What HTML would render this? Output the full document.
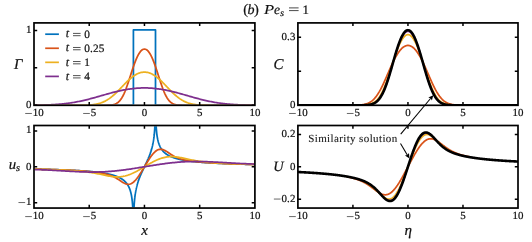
<!DOCTYPE html>
<html><head><meta charset="utf-8"><title>fig</title>
<style>html,body{margin:0;padding:0;background:#fff}svg{display:block;will-change:transform}text{font-family:"Liberation Serif",serif;fill:#111;stroke:#111;stroke-width:0.22px;text-rendering:geometricPrecision}</style>
</head><body>
<svg width="532" height="242" viewBox="0 0 532 242">
<rect width="532" height="242" fill="#fff"/>
<defs><clipPath id="cTL"><rect x="34.85" y="23.75" width="219.20" height="80.70"/></clipPath><clipPath id="cTR"><rect x="298.75" y="23.75" width="218.40" height="80.70"/></clipPath><clipPath id="cBL"><rect x="34.85" y="126.35" width="219.20" height="80.85"/></clipPath><clipPath id="cBR"><rect x="298.75" y="126.35" width="218.40" height="80.85"/></clipPath><clipPath id="kTL"><rect x="34.00" y="22.90" width="220.90" height="82.40"/></clipPath><clipPath id="kTR"><rect x="297.90" y="22.90" width="220.10" height="82.40"/></clipPath><clipPath id="kBL"><rect x="34.00" y="125.50" width="220.90" height="82.55"/></clipPath><clipPath id="kBR"><rect x="297.90" y="125.50" width="220.10" height="82.55"/></clipPath></defs>
<polyline clip-path="url(#cTL)" points="34.00,105.30 133.41,105.30 133.41,29.90 155.50,29.90 155.50,105.30 254.90,105.30" fill="none" stroke="#0072bd" stroke-width="1.75" stroke-linejoin="round"/>
<polyline clip-path="url(#cTL)" points="32.27,105.30 33.35,105.30 34.43,105.30 35.51,105.30 36.59,105.30 37.67,105.30 38.75,105.30 39.82,105.30 40.90,105.30 41.98,105.30 43.06,105.30 44.14,105.30 45.22,105.30 46.30,105.30 47.37,105.30 48.45,105.30 49.53,105.30 50.61,105.30 51.69,105.30 52.77,105.30 53.85,105.30 54.93,105.30 56.00,105.30 57.08,105.30 58.16,105.30 59.24,105.30 60.32,105.30 61.40,105.30 62.48,105.30 63.55,105.30 64.63,105.30 65.71,105.30 66.79,105.30 67.87,105.30 68.95,105.30 70.03,105.30 71.10,105.30 72.18,105.30 73.26,105.30 74.34,105.30 75.42,105.30 76.50,105.30 77.58,105.30 78.65,105.30 79.73,105.30 80.81,105.30 81.89,105.30 82.97,105.30 84.05,105.30 85.13,105.30 86.20,105.30 87.28,105.30 88.36,105.30 89.44,105.30 90.52,105.30 91.60,105.30 92.68,105.30 93.76,105.30 94.83,105.30 95.91,105.30 96.99,105.30 98.07,105.30 99.15,105.30 100.23,105.30 101.31,105.30 102.38,105.30 103.46,105.29 104.54,105.28 105.62,105.27 106.70,105.26 107.78,105.23 108.86,105.19 109.93,105.13 111.01,105.03 112.09,104.90 113.17,104.70 114.25,104.42 115.33,104.04 116.41,103.53 117.48,102.86 118.56,101.99 119.64,100.90 120.72,99.55 121.80,97.92 122.88,96.00 123.96,93.79 125.03,91.29 126.11,88.52 127.19,85.53 128.27,82.36 129.35,79.07 130.43,75.71 131.51,72.36 132.59,69.07 133.66,65.91 134.74,62.92 135.82,60.15 136.90,57.64 137.98,55.42 139.06,53.51 140.14,51.92 141.21,50.68 142.29,49.79 143.37,49.25 144.45,49.07 145.53,49.25 146.61,49.79 147.69,50.68 148.76,51.92 149.84,53.51 150.92,55.42 152.00,57.64 153.08,60.15 154.16,62.92 155.24,65.91 156.31,69.07 157.39,72.36 158.47,75.71 159.55,79.07 160.63,82.36 161.71,85.53 162.79,88.52 163.87,91.29 164.94,93.79 166.02,96.00 167.10,97.92 168.18,99.55 169.26,100.90 170.34,101.99 171.42,102.86 172.49,103.53 173.57,104.04 174.65,104.42 175.73,104.70 176.81,104.90 177.89,105.03 178.97,105.13 180.04,105.19 181.12,105.23 182.20,105.26 183.28,105.27 184.36,105.28 185.44,105.29 186.52,105.30 187.59,105.30 188.67,105.30 189.75,105.30 190.83,105.30 191.91,105.30 192.99,105.30 194.07,105.30 195.14,105.30 196.22,105.30 197.30,105.30 198.38,105.30 199.46,105.30 200.54,105.30 201.62,105.30 202.70,105.30 203.77,105.30 204.85,105.30 205.93,105.30 207.01,105.30 208.09,105.30 209.17,105.30 210.25,105.30 211.32,105.30 212.40,105.30 213.48,105.30 214.56,105.30 215.64,105.30 216.72,105.30 217.80,105.30 218.87,105.30 219.95,105.30 221.03,105.30 222.11,105.30 223.19,105.30 224.27,105.30 225.35,105.30 226.42,105.30 227.50,105.30 228.58,105.30 229.66,105.30 230.74,105.30 231.82,105.30 232.90,105.30 233.97,105.30 235.05,105.30 236.13,105.30 237.21,105.30 238.29,105.30 239.37,105.30 240.45,105.30 241.53,105.30 242.60,105.30 243.68,105.30 244.76,105.30 245.84,105.30 246.92,105.30 248.00,105.30 249.08,105.30 250.15,105.30 251.23,105.30 252.31,105.30 253.39,105.30 254.47,105.30 255.55,105.30 256.63,105.30" fill="none" stroke="#d95319" stroke-width="1.75" stroke-linejoin="round"/>
<polyline clip-path="url(#cTL)" points="32.27,105.30 33.35,105.30 34.43,105.30 35.51,105.30 36.59,105.30 37.67,105.30 38.75,105.30 39.82,105.30 40.90,105.30 41.98,105.30 43.06,105.30 44.14,105.30 45.22,105.30 46.30,105.30 47.37,105.30 48.45,105.30 49.53,105.30 50.61,105.30 51.69,105.30 52.77,105.30 53.85,105.30 54.93,105.30 56.00,105.30 57.08,105.30 58.16,105.30 59.24,105.30 60.32,105.30 61.40,105.30 62.48,105.30 63.55,105.30 64.63,105.30 65.71,105.30 66.79,105.30 67.87,105.30 68.95,105.30 70.03,105.30 71.10,105.29 72.18,105.29 73.26,105.29 74.34,105.29 75.42,105.28 76.50,105.28 77.58,105.27 78.65,105.26 79.73,105.25 80.81,105.24 81.89,105.22 82.97,105.20 84.05,105.18 85.13,105.15 86.20,105.11 87.28,105.06 88.36,105.00 89.44,104.94 90.52,104.86 91.60,104.76 92.68,104.65 93.76,104.51 94.83,104.35 95.91,104.17 96.99,103.96 98.07,103.71 99.15,103.43 100.23,103.12 101.31,102.76 102.38,102.35 103.46,101.91 104.54,101.41 105.62,100.86 106.70,100.25 107.78,99.60 108.86,98.89 109.93,98.12 111.01,97.31 112.09,96.44 113.17,95.52 114.25,94.56 115.33,93.56 116.41,92.53 117.48,91.46 118.56,90.37 119.64,89.26 120.72,88.13 121.80,87.00 122.88,85.87 123.96,84.75 125.03,83.64 126.11,82.55 127.19,81.49 128.27,80.46 129.35,79.47 130.43,78.53 131.51,77.63 132.59,76.79 133.66,76.01 134.74,75.29 135.82,74.64 136.90,74.06 137.98,73.55 139.06,73.11 140.14,72.75 141.21,72.47 142.29,72.27 143.37,72.15 144.45,72.11 145.53,72.15 146.61,72.27 147.69,72.47 148.76,72.75 149.84,73.11 150.92,73.55 152.00,74.06 153.08,74.64 154.16,75.29 155.24,76.01 156.31,76.79 157.39,77.63 158.47,78.53 159.55,79.47 160.63,80.46 161.71,81.49 162.79,82.55 163.87,83.64 164.94,84.75 166.02,85.87 167.10,87.00 168.18,88.13 169.26,89.26 170.34,90.37 171.42,91.46 172.49,92.53 173.57,93.56 174.65,94.56 175.73,95.52 176.81,96.44 177.89,97.31 178.97,98.12 180.04,98.89 181.12,99.60 182.20,100.25 183.28,100.86 184.36,101.41 185.44,101.91 186.52,102.35 187.59,102.76 188.67,103.12 189.75,103.43 190.83,103.71 191.91,103.96 192.99,104.17 194.07,104.35 195.14,104.51 196.22,104.65 197.30,104.76 198.38,104.86 199.46,104.94 200.54,105.00 201.62,105.06 202.70,105.11 203.77,105.15 204.85,105.18 205.93,105.20 207.01,105.22 208.09,105.24 209.17,105.25 210.25,105.26 211.32,105.27 212.40,105.28 213.48,105.28 214.56,105.29 215.64,105.29 216.72,105.29 217.80,105.29 218.87,105.30 219.95,105.30 221.03,105.30 222.11,105.30 223.19,105.30 224.27,105.30 225.35,105.30 226.42,105.30 227.50,105.30 228.58,105.30 229.66,105.30 230.74,105.30 231.82,105.30 232.90,105.30 233.97,105.30 235.05,105.30 236.13,105.30 237.21,105.30 238.29,105.30 239.37,105.30 240.45,105.30 241.53,105.30 242.60,105.30 243.68,105.30 244.76,105.30 245.84,105.30 246.92,105.30 248.00,105.30 249.08,105.30 250.15,105.30 251.23,105.30 252.31,105.30 253.39,105.30 254.47,105.30 255.55,105.30 256.63,105.30" fill="none" stroke="#edb120" stroke-width="1.75" stroke-linejoin="round"/>
<polyline clip-path="url(#cTL)" points="32.27,105.20 33.35,105.19 34.43,105.18 35.51,105.17 36.59,105.15 37.67,105.13 38.75,105.11 39.82,105.09 40.90,105.07 41.98,105.05 43.06,105.02 44.14,104.99 45.22,104.96 46.30,104.92 47.37,104.88 48.45,104.84 49.53,104.80 50.61,104.75 51.69,104.70 52.77,104.64 53.85,104.58 54.93,104.51 56.00,104.44 57.08,104.37 58.16,104.29 59.24,104.20 60.32,104.11 61.40,104.01 62.48,103.91 63.55,103.80 64.63,103.68 65.71,103.56 66.79,103.43 67.87,103.29 68.95,103.15 70.03,103.00 71.10,102.84 72.18,102.67 73.26,102.50 74.34,102.31 75.42,102.12 76.50,101.93 77.58,101.72 78.65,101.51 79.73,101.29 80.81,101.06 81.89,100.83 82.97,100.58 84.05,100.34 85.13,100.08 86.20,99.82 87.28,99.55 88.36,99.28 89.44,99.00 90.52,98.72 91.60,98.43 92.68,98.14 93.76,97.84 94.83,97.54 95.91,97.24 96.99,96.93 98.07,96.63 99.15,96.32 100.23,96.01 101.31,95.70 102.38,95.39 103.46,95.08 104.54,94.77 105.62,94.47 106.70,94.16 107.78,93.86 108.86,93.56 109.93,93.27 111.01,92.98 112.09,92.69 113.17,92.41 114.25,92.13 115.33,91.86 116.41,91.60 117.48,91.34 118.56,91.09 119.64,90.85 120.72,90.61 121.80,90.39 122.88,90.17 123.96,89.96 125.03,89.76 126.11,89.57 127.19,89.38 128.27,89.21 129.35,89.05 130.43,88.90 131.51,88.76 132.59,88.63 133.66,88.51 134.74,88.40 135.82,88.30 136.90,88.21 137.98,88.14 139.06,88.07 140.14,88.02 141.21,87.98 142.29,87.95 143.37,87.93 144.45,87.93 145.53,87.93 146.61,87.95 147.69,87.98 148.76,88.02 149.84,88.07 150.92,88.14 152.00,88.21 153.08,88.30 154.16,88.40 155.24,88.51 156.31,88.63 157.39,88.76 158.47,88.90 159.55,89.05 160.63,89.21 161.71,89.38 162.79,89.57 163.87,89.76 164.94,89.96 166.02,90.17 167.10,90.39 168.18,90.61 169.26,90.85 170.34,91.09 171.42,91.34 172.49,91.60 173.57,91.86 174.65,92.13 175.73,92.41 176.81,92.69 177.89,92.98 178.97,93.27 180.04,93.56 181.12,93.86 182.20,94.16 183.28,94.47 184.36,94.77 185.44,95.08 186.52,95.39 187.59,95.70 188.67,96.01 189.75,96.32 190.83,96.63 191.91,96.93 192.99,97.24 194.07,97.54 195.14,97.84 196.22,98.14 197.30,98.43 198.38,98.72 199.46,99.00 200.54,99.28 201.62,99.55 202.70,99.82 203.77,100.08 204.85,100.34 205.93,100.58 207.01,100.83 208.09,101.06 209.17,101.29 210.25,101.51 211.32,101.72 212.40,101.93 213.48,102.12 214.56,102.31 215.64,102.50 216.72,102.67 217.80,102.84 218.87,103.00 219.95,103.15 221.03,103.29 222.11,103.43 223.19,103.56 224.27,103.68 225.35,103.80 226.42,103.91 227.50,104.01 228.58,104.11 229.66,104.20 230.74,104.29 231.82,104.37 232.90,104.44 233.97,104.51 235.05,104.58 236.13,104.64 237.21,104.70 238.29,104.75 239.37,104.80 240.45,104.84 241.53,104.88 242.60,104.92 243.68,104.96 244.76,104.99 245.84,105.02 246.92,105.05 248.00,105.07 249.08,105.09 250.15,105.11 251.23,105.13 252.31,105.15 253.39,105.17 254.47,105.18 255.55,105.19 256.63,105.20" fill="none" stroke="#7e2f8e" stroke-width="1.75" stroke-linejoin="round"/>
<polyline clip-path="url(#cBL)" points="34.00,169.07 34.17,169.07 34.33,169.07 34.50,169.08 34.66,169.08 34.83,169.09 35.00,169.09 35.16,169.09 35.33,169.10 35.49,169.10 35.66,169.10 35.83,169.11 35.99,169.11 36.16,169.11 36.32,169.12 36.49,169.12 36.66,169.12 36.82,169.13 36.99,169.13 37.15,169.14 37.32,169.14 37.48,169.14 37.65,169.15 37.82,169.15 37.98,169.15 38.15,169.16 38.31,169.16 38.48,169.17 38.65,169.17 38.81,169.17 38.98,169.18 39.14,169.18 39.31,169.18 39.48,169.19 39.64,169.19 39.81,169.20 39.97,169.20 40.14,169.20 40.31,169.21 40.47,169.21 40.64,169.22 40.80,169.22 40.97,169.22 41.14,169.23 41.30,169.23 41.47,169.24 41.63,169.24 41.80,169.24 41.97,169.25 42.13,169.25 42.30,169.26 42.46,169.26 42.63,169.26 42.79,169.27 42.96,169.27 43.13,169.28 43.29,169.28 43.46,169.28 43.62,169.29 43.79,169.29 43.96,169.30 44.12,169.30 44.29,169.30 44.45,169.31 44.62,169.31 44.79,169.32 44.95,169.32 45.12,169.33 45.28,169.33 45.45,169.33 45.62,169.34 45.78,169.34 45.95,169.35 46.11,169.35 46.28,169.36 46.45,169.36 46.61,169.37 46.78,169.37 46.94,169.37 47.11,169.38 47.28,169.38 47.44,169.39 47.61,169.39 47.77,169.40 47.94,169.40 48.11,169.41 48.27,169.41 48.44,169.42 48.60,169.42 48.77,169.42 48.93,169.43 49.10,169.43 49.27,169.44 49.43,169.44 49.60,169.45 49.76,169.45 49.93,169.46 50.10,169.46 50.26,169.47 50.43,169.47 50.59,169.48 50.76,169.48 50.93,169.49 51.09,169.49 51.26,169.50 51.42,169.50 51.59,169.51 51.76,169.51 51.92,169.52 52.09,169.52 52.25,169.53 52.42,169.53 52.59,169.54 52.75,169.54 52.92,169.55 53.08,169.55 53.25,169.56 53.42,169.56 53.58,169.57 53.75,169.57 53.91,169.58 54.08,169.58 54.24,169.59 54.41,169.59 54.58,169.60 54.74,169.60 54.91,169.61 55.07,169.61 55.24,169.62 55.41,169.62 55.57,169.63 55.74,169.63 55.90,169.64 56.07,169.65 56.24,169.65 56.40,169.66 56.57,169.66 56.73,169.67 56.90,169.67 57.07,169.68 57.23,169.68 57.40,169.69 57.56,169.70 57.73,169.70 57.90,169.71 58.06,169.71 58.23,169.72 58.39,169.72 58.56,169.73 58.73,169.74 58.89,169.74 59.06,169.75 59.22,169.75 59.39,169.76 59.56,169.76 59.72,169.77 59.89,169.78 60.05,169.78 60.22,169.79 60.38,169.79 60.55,169.80 60.72,169.81 60.88,169.81 61.05,169.82 61.21,169.82 61.38,169.83 61.55,169.84 61.71,169.84 61.88,169.85 62.04,169.86 62.21,169.86 62.38,169.87 62.54,169.88 62.71,169.88 62.87,169.89 63.04,169.89 63.21,169.90 63.37,169.91 63.54,169.91 63.70,169.92 63.87,169.93 64.04,169.93 64.20,169.94 64.37,169.95 64.53,169.95 64.70,169.96 64.87,169.97 65.03,169.97 65.20,169.98 65.36,169.99 65.53,169.99 65.69,170.00 65.86,170.01 66.03,170.01 66.19,170.02 66.36,170.03 66.52,170.04 66.69,170.04 66.86,170.05 67.02,170.06 67.19,170.06 67.35,170.07 67.52,170.08 67.69,170.09 67.85,170.09 68.02,170.10 68.18,170.11 68.35,170.11 68.52,170.12 68.68,170.13 68.85,170.14 69.01,170.14 69.18,170.15 69.35,170.16 69.51,170.17 69.68,170.18 69.84,170.18 70.01,170.19 70.18,170.20 70.34,170.21 70.51,170.21 70.67,170.22 70.84,170.23 71.01,170.24 71.17,170.25 71.34,170.25 71.50,170.26 71.67,170.27 71.83,170.28 72.00,170.29 72.17,170.29 72.33,170.30 72.50,170.31 72.66,170.32 72.83,170.33 73.00,170.34 73.16,170.34 73.33,170.35 73.49,170.36 73.66,170.37 73.83,170.38 73.99,170.39 74.16,170.40 74.32,170.40 74.49,170.41 74.66,170.42 74.82,170.43 74.99,170.44 75.15,170.45 75.32,170.46 75.49,170.47 75.65,170.48 75.82,170.48 75.98,170.49 76.15,170.50 76.32,170.51 76.48,170.52 76.65,170.53 76.81,170.54 76.98,170.55 77.15,170.56 77.31,170.57 77.48,170.58 77.64,170.59 77.81,170.60 77.97,170.61 78.14,170.62 78.31,170.63 78.47,170.64 78.64,170.65 78.80,170.66 78.97,170.67 79.14,170.68 79.30,170.69 79.47,170.70 79.63,170.71 79.80,170.72 79.97,170.73 80.13,170.74 80.30,170.75 80.46,170.76 80.63,170.77 80.80,170.78 80.96,170.79 81.13,170.80 81.29,170.81 81.46,170.82 81.63,170.83 81.79,170.85 81.96,170.86 82.12,170.87 82.29,170.88 82.46,170.89 82.62,170.90 82.79,170.91 82.95,170.92 83.12,170.94 83.28,170.95 83.45,170.96 83.62,170.97 83.78,170.98 83.95,170.99 84.11,171.01 84.28,171.02 84.45,171.03 84.61,171.04 84.78,171.05 84.94,171.07 85.11,171.08 85.28,171.09 85.44,171.10 85.61,171.12 85.77,171.13 85.94,171.14 86.11,171.15 86.27,171.17 86.44,171.18 86.60,171.19 86.77,171.20 86.94,171.22 87.10,171.23 87.27,171.24 87.43,171.26 87.60,171.27 87.77,171.28 87.93,171.30 88.10,171.31 88.26,171.33 88.43,171.34 88.60,171.35 88.76,171.37 88.93,171.38 89.09,171.40 89.26,171.41 89.42,171.42 89.59,171.44 89.76,171.45 89.92,171.47 90.09,171.48 90.25,171.50 90.42,171.51 90.59,171.53 90.75,171.54 90.92,171.56 91.08,171.57 91.25,171.59 91.42,171.60 91.58,171.62 91.75,171.64 91.91,171.65 92.08,171.67 92.25,171.68 92.41,171.70 92.58,171.72 92.74,171.73 92.91,171.75 93.08,171.77 93.24,171.78 93.41,171.80 93.57,171.82 93.74,171.83 93.91,171.85 94.07,171.87 94.24,171.88 94.40,171.90 94.57,171.92 94.73,171.94 94.90,171.96 95.07,171.97 95.23,171.99 95.40,172.01 95.56,172.03 95.73,172.05 95.90,172.07 96.06,172.08 96.23,172.10 96.39,172.12 96.56,172.14 96.73,172.16 96.89,172.18 97.06,172.20 97.22,172.22 97.39,172.24 97.56,172.26 97.72,172.28 97.89,172.30 98.05,172.32 98.22,172.34 98.39,172.36 98.55,172.38 98.72,172.40 98.88,172.43 99.05,172.45 99.22,172.47 99.38,172.49 99.55,172.51 99.71,172.54 99.88,172.56 100.05,172.58 100.21,172.60 100.38,172.63 100.54,172.65 100.71,172.67 100.87,172.70 101.04,172.72 101.21,172.74 101.37,172.77 101.54,172.79 101.70,172.82 101.87,172.84 102.04,172.87 102.20,172.89 102.37,172.92 102.53,172.94 102.70,172.97 102.87,172.99 103.03,173.02 103.20,173.05 103.36,173.07 103.53,173.10 103.70,173.13 103.86,173.15 104.03,173.18 104.19,173.21 104.36,173.24 104.53,173.27 104.69,173.29 104.86,173.32 105.02,173.35 105.19,173.38 105.36,173.41 105.52,173.44 105.69,173.47 105.85,173.50 106.02,173.53 106.18,173.56 106.35,173.59 106.52,173.63 106.68,173.66 106.85,173.69 107.01,173.72 107.18,173.76 107.35,173.79 107.51,173.82 107.68,173.86 107.84,173.89 108.01,173.93 108.18,173.96 108.34,174.00 108.51,174.03 108.67,174.07 108.84,174.10 109.01,174.14 109.17,174.18 109.34,174.21 109.50,174.25 109.67,174.29 109.84,174.33 110.00,174.37 110.17,174.41 110.33,174.45 110.50,174.49 110.67,174.53 110.83,174.57 111.00,174.61 111.16,174.65 111.33,174.70 111.50,174.74 111.66,174.78 111.83,174.83 111.99,174.87 112.16,174.92 112.32,174.96 112.49,175.01 112.66,175.06 112.82,175.10 112.99,175.15 113.15,175.20 113.32,175.25 113.49,175.30 113.65,175.35 113.82,175.40 113.98,175.45 114.15,175.51 114.32,175.56 114.48,175.61 114.65,175.67 114.81,175.72 114.98,175.78 115.15,175.83 115.31,175.89 115.48,175.95 115.64,176.01 115.81,176.07 115.98,176.13 116.14,176.19 116.31,176.25 116.47,176.31 116.64,176.38 116.81,176.44 116.97,176.51 117.14,176.57 117.30,176.64 117.47,176.71 117.63,176.78 117.80,176.85 117.97,176.92 118.13,177.00 118.30,177.07 118.46,177.14 118.63,177.22 118.80,177.30 118.96,177.38 119.13,177.46 119.29,177.54 119.46,177.62 119.63,177.71 119.79,177.79 119.96,177.88 120.12,177.97 120.29,178.06 120.46,178.15 120.62,178.24 120.79,178.34 120.95,178.43 121.12,178.53 121.29,178.63 121.45,178.73 121.62,178.84 121.78,178.94 121.95,179.05 122.12,179.16 122.28,179.27 122.45,179.39 122.61,179.50 122.78,179.62 122.95,179.74 123.11,179.87 123.28,180.00 123.44,180.13 123.61,180.26 123.77,180.39 123.94,180.53 124.11,180.67 124.27,180.82 124.44,180.97 124.60,181.12 124.77,181.28 124.94,181.44 125.10,181.60 125.27,181.77 125.43,181.94 125.60,182.12 125.77,182.30 125.93,182.49 126.10,182.68 126.26,182.88 126.43,183.08 126.60,183.29 126.76,183.51 126.93,183.73 127.09,183.96 127.26,184.20 127.43,184.44 127.59,184.70 127.76,184.96 127.92,185.23 128.09,185.51 128.26,185.81 128.42,186.11 128.59,186.43 128.75,186.76 128.92,187.10 129.08,187.46 129.25,187.83 129.42,188.23 129.58,188.64 129.75,189.07 129.91,189.53 130.08,190.01 130.25,190.52 130.41,191.06 130.58,191.64 130.74,192.26 130.91,192.91 131.08,193.62 131.24,194.39 131.41,195.22 131.57,196.14 131.74,197.14 131.91,198.26 132.07,199.52 132.24,200.96 132.40,202.63 132.57,204.62 132.74,207.06 132.90,210.24 133.07,214.72 133.23,222.37 133.40,261.53 133.41,261.53 133.45,238.23 133.48,231.06 133.52,226.68 133.56,223.51 133.59,221.02 133.63,218.97 133.67,217.23 133.71,215.72 133.74,214.38 133.78,213.17 133.82,212.08 133.85,211.08 133.89,210.16 133.93,209.30 133.96,208.50 134.00,207.75 134.04,207.04 134.07,206.38 134.11,205.74 134.15,205.14 134.18,204.57 134.22,204.02 134.26,203.50 134.30,202.99 134.33,202.51 134.37,202.05 134.41,201.60 134.44,201.16 134.48,200.75 134.52,200.34 134.55,199.95 134.59,199.57 134.63,199.20 134.66,198.84 134.70,198.49 134.74,198.15 134.77,197.81 134.81,197.49 134.85,197.17 134.88,196.86 134.92,196.56 134.96,196.27 135.00,195.98 135.03,195.70 135.07,195.42 135.11,195.15 135.14,194.88 135.18,194.62 135.22,194.37 135.25,194.12 135.29,193.87 135.33,193.63 135.36,193.39 135.40,193.16 135.44,192.93 135.47,192.70 135.51,192.48 135.55,192.26 135.59,192.04 135.62,191.83 135.66,191.62 135.70,191.41 135.73,191.21 135.77,191.01 135.81,190.81 135.84,190.62 135.88,190.42 135.92,190.23 135.95,190.05 135.99,189.86 136.03,189.68 136.06,189.50 136.10,189.32 136.14,189.14 136.17,188.96 136.21,188.79 136.25,188.62 136.29,188.45 136.32,188.28 136.36,188.12 136.40,187.96 136.43,187.79 136.47,187.63 136.51,187.47 136.54,187.32 136.58,187.16 136.62,187.01 136.65,186.86 136.69,186.70 136.73,186.55 136.76,186.41 136.80,186.26 136.84,186.11 136.88,185.97 136.91,185.82 136.95,185.68 136.99,185.54 137.02,185.40 137.06,185.26 137.10,185.13 137.13,184.99 137.17,184.85 137.21,184.72 137.24,184.59 137.28,184.45 137.32,184.32 137.35,184.19 137.39,184.06 137.43,183.93 137.47,183.81 137.50,183.68 137.54,183.55 137.58,183.43 137.61,183.31 137.65,183.18 137.69,183.06 137.72,182.94 137.76,182.82 137.80,182.70 137.83,182.58 137.87,182.46 137.91,182.34 137.94,182.22 137.98,182.11 138.02,181.99 138.05,181.88 138.09,181.76 138.13,181.65 138.17,181.54 138.20,181.42 138.24,181.31 138.28,181.20 138.31,181.09 138.35,180.98 138.39,180.87 138.42,180.76 138.46,180.65 138.50,180.55 138.53,180.44 138.57,180.33 138.61,180.23 138.64,180.12 138.68,180.02 138.72,179.91 138.76,179.81 138.79,179.70 138.83,179.60 138.87,179.50 138.90,179.39 138.94,179.29 138.98,179.19 139.01,179.09 139.05,178.99 139.09,178.89 139.12,178.79 139.16,178.69 139.20,178.59 139.23,178.49 139.27,178.40 139.31,178.30 139.34,178.20 139.38,178.11 139.42,178.01 139.46,177.91 139.49,177.82 139.53,177.72 139.57,177.63 139.60,177.53 139.64,177.44 139.68,177.34 139.71,177.25 139.75,177.16 139.79,177.06 139.82,176.97 139.86,176.88 139.90,176.79 139.93,176.70 139.97,176.60 140.01,176.51 140.05,176.42 140.08,176.33 140.12,176.24 140.16,176.15 140.19,176.06 140.23,175.97 140.27,175.88 140.30,175.79 140.34,175.71 140.38,175.62 140.41,175.53 140.45,175.44 140.49,175.35 140.52,175.27 140.56,175.18 140.60,175.09 140.64,175.01 140.67,174.92 140.71,174.83 140.75,174.75 140.78,174.66 140.82,174.58 140.86,174.49 140.89,174.40 140.93,174.32 140.97,174.24 141.00,174.15 141.04,174.07 141.08,173.98 141.11,173.90 141.15,173.81 141.19,173.73 141.22,173.65 141.26,173.56 141.30,173.48 141.34,173.40 141.37,173.32 141.41,173.23 141.45,173.15 141.48,173.07 141.52,172.99 141.56,172.90 141.59,172.82 141.63,172.74 141.67,172.66 141.70,172.58 141.74,172.50 141.78,172.42 141.81,172.33 141.85,172.25 141.89,172.17 141.93,172.09 141.96,172.01 142.00,171.93 142.04,171.85 142.07,171.77 142.11,171.69 142.15,171.61 142.18,171.53 142.22,171.45 142.26,171.37 142.29,171.29 142.33,171.21 142.37,171.14 142.40,171.06 142.44,170.98 142.48,170.90 142.51,170.82 142.55,170.74 142.59,170.66 142.63,170.58 142.66,170.51 142.70,170.43 142.74,170.35 142.77,170.27 142.81,170.19 142.85,170.12 142.88,170.04 142.92,169.96 142.96,169.88 142.99,169.80 143.03,169.73 143.07,169.65 143.10,169.57 143.14,169.49 143.18,169.42 143.22,169.34 143.25,169.26 143.29,169.19 143.33,169.11 143.36,169.03 143.40,168.95 143.44,168.88 143.47,168.80 143.51,168.72 143.55,168.65 143.58,168.57 143.62,168.49 143.66,168.42 143.69,168.34 143.73,168.26 143.77,168.19 143.80,168.11 143.84,168.03 143.88,167.96 143.92,167.88 143.95,167.81 143.99,167.73 144.03,167.65 144.06,167.58 144.10,167.50 144.14,167.42 144.17,167.35 144.21,167.27 144.25,167.19 144.28,167.12 144.32,167.04 144.36,166.97 144.39,166.89 144.43,166.81 144.47,166.74 144.51,166.66 144.54,166.58 144.58,166.51 144.62,166.43 144.65,166.36 144.69,166.28 144.73,166.20 144.76,166.13 144.80,166.05 144.84,165.97 144.87,165.90 144.91,165.82 144.95,165.74 144.98,165.67 145.02,165.59 145.06,165.52 145.10,165.44 145.13,165.36 145.17,165.29 145.21,165.21 145.24,165.13 145.28,165.06 145.32,164.98 145.35,164.90 145.39,164.83 145.43,164.75 145.46,164.67 145.50,164.60 145.54,164.52 145.57,164.44 145.61,164.36 145.65,164.29 145.68,164.21 145.72,164.13 145.76,164.06 145.80,163.98 145.83,163.90 145.87,163.82 145.91,163.75 145.94,163.67 145.98,163.59 146.02,163.51 146.05,163.43 146.09,163.36 146.13,163.28 146.16,163.20 146.20,163.12 146.24,163.04 146.27,162.97 146.31,162.89 146.35,162.81 146.39,162.73 146.42,162.65 146.46,162.57 146.50,162.49 146.53,162.41 146.57,162.34 146.61,162.26 146.64,162.18 146.68,162.10 146.72,162.02 146.75,161.94 146.79,161.86 146.83,161.78 146.86,161.70 146.90,161.62 146.94,161.54 146.97,161.46 147.01,161.38 147.05,161.30 147.09,161.22 147.12,161.13 147.16,161.05 147.20,160.97 147.23,160.89 147.27,160.81 147.31,160.73 147.34,160.65 147.38,160.56 147.42,160.48 147.45,160.40 147.49,160.32 147.53,160.23 147.56,160.15 147.60,160.07 147.64,159.99 147.68,159.90 147.71,159.82 147.75,159.74 147.79,159.65 147.82,159.57 147.86,159.48 147.90,159.40 147.93,159.31 147.97,159.23 148.01,159.15 148.04,159.06 148.08,158.97 148.12,158.89 148.15,158.80 148.19,158.72 148.23,158.63 148.26,158.54 148.30,158.46 148.34,158.37 148.38,158.28 148.41,158.20 148.45,158.11 148.49,158.02 148.52,157.93 148.56,157.84 148.60,157.76 148.63,157.67 148.67,157.58 148.71,157.49 148.74,157.40 148.78,157.31 148.82,157.22 148.85,157.13 148.89,157.04 148.93,156.95 148.97,156.85 149.00,156.76 149.04,156.67 149.08,156.58 149.11,156.49 149.15,156.39 149.19,156.30 149.22,156.21 149.26,156.11 149.30,156.02 149.33,155.92 149.37,155.83 149.41,155.73 149.44,155.64 149.48,155.54 149.52,155.44 149.56,155.35 149.59,155.25 149.63,155.15 149.67,155.06 149.70,154.96 149.74,154.86 149.78,154.76 149.81,154.66 149.85,154.56 149.89,154.46 149.92,154.36 149.96,154.26 150.00,154.16 150.03,154.05 150.07,153.95 150.11,153.85 150.14,153.74 150.18,153.64 150.22,153.53 150.26,153.43 150.29,153.32 150.33,153.22 150.37,153.11 150.40,153.00 150.44,152.90 150.48,152.79 150.51,152.68 150.55,152.57 150.59,152.46 150.62,152.35 150.66,152.24 150.70,152.13 150.73,152.01 150.77,151.90 150.81,151.79 150.85,151.67 150.88,151.56 150.92,151.44 150.96,151.33 150.99,151.21 151.03,151.09 151.07,150.97 151.10,150.85 151.14,150.73 151.18,150.61 151.21,150.49 151.25,150.37 151.29,150.24 151.32,150.12 151.36,150.00 151.40,149.87 151.43,149.74 151.47,149.62 151.51,149.49 151.55,149.36 151.58,149.23 151.62,149.10 151.66,148.96 151.69,148.83 151.73,148.70 151.77,148.56 151.80,148.42 151.84,148.29 151.88,148.15 151.91,148.01 151.95,147.87 151.99,147.73 152.02,147.58 152.06,147.44 152.10,147.29 152.14,147.14 152.17,147.00 152.21,146.85 152.25,146.69 152.28,146.54 152.32,146.39 152.36,146.23 152.39,146.08 152.43,145.92 152.47,145.76 152.50,145.59 152.54,145.43 152.58,145.27 152.61,145.10 152.65,144.93 152.69,144.76 152.73,144.59 152.76,144.41 152.80,144.23 152.84,144.05 152.87,143.87 152.91,143.69 152.95,143.50 152.98,143.32 153.02,143.13 153.06,142.93 153.09,142.74 153.13,142.54 153.17,142.34 153.20,142.14 153.24,141.93 153.28,141.72 153.31,141.51 153.35,141.29 153.39,141.07 153.43,140.85 153.46,140.62 153.50,140.39 153.54,140.16 153.57,139.92 153.61,139.68 153.65,139.43 153.68,139.18 153.72,138.93 153.76,138.67 153.79,138.40 153.83,138.13 153.87,137.85 153.90,137.57 153.94,137.28 153.98,136.99 154.02,136.69 154.05,136.38 154.09,136.06 154.13,135.74 154.16,135.40 154.20,135.06 154.24,134.71 154.27,134.35 154.31,133.98 154.35,133.60 154.38,133.21 154.42,132.80 154.46,132.39 154.49,131.95 154.53,131.50 154.57,131.04 154.60,130.56 154.64,130.05 154.68,129.53 154.72,128.98 154.75,128.41 154.79,127.81 154.83,127.17 154.86,126.51 154.90,125.80 154.94,125.05 154.97,124.25 155.01,123.39 155.05,122.47 155.08,121.47 155.12,120.38 155.16,119.17 155.19,117.83 155.23,116.32 155.27,114.58 155.31,112.53 155.34,110.04 155.38,106.87 155.42,102.49 155.45,95.32 155.49,72.02 155.50,72.02 155.67,111.18 155.83,118.83 156.00,123.31 156.16,126.49 156.33,128.93 156.50,130.92 156.66,132.59 156.83,134.03 156.99,135.29 157.16,136.41 157.33,137.41 157.49,138.33 157.66,139.16 157.82,139.93 157.99,140.64 158.16,141.29 158.32,141.91 158.49,142.49 158.65,143.03 158.82,143.54 158.99,144.02 159.15,144.48 159.32,144.91 159.48,145.32 159.65,145.72 159.82,146.09 159.98,146.45 160.15,146.79 160.31,147.12 160.48,147.44 160.64,147.74 160.81,148.04 160.98,148.32 161.14,148.59 161.31,148.85 161.47,149.11 161.64,149.35 161.81,149.59 161.97,149.82 162.14,150.04 162.30,150.26 162.47,150.47 162.64,150.67 162.80,150.87 162.97,151.06 163.13,151.25 163.30,151.43 163.47,151.61 163.63,151.78 163.80,151.95 163.96,152.11 164.13,152.27 164.30,152.43 164.46,152.58 164.63,152.73 164.79,152.88 164.96,153.02 165.13,153.16 165.29,153.29 165.46,153.42 165.62,153.55 165.79,153.68 165.95,153.81 166.12,153.93 166.29,154.05 166.45,154.16 166.62,154.28 166.78,154.39 166.95,154.50 167.12,154.61 167.28,154.71 167.45,154.82 167.61,154.92 167.78,155.02 167.95,155.12 168.11,155.21 168.28,155.31 168.44,155.40 168.61,155.49 168.78,155.58 168.94,155.67 169.11,155.76 169.27,155.84 169.44,155.93 169.61,156.01 169.77,156.09 169.94,156.17 170.10,156.25 170.27,156.33 170.44,156.41 170.60,156.48 170.77,156.55 170.93,156.63 171.10,156.70 171.27,156.77 171.43,156.84 171.60,156.91 171.76,156.98 171.93,157.04 172.09,157.11 172.26,157.17 172.43,157.24 172.59,157.30 172.76,157.36 172.92,157.42 173.09,157.48 173.26,157.54 173.42,157.60 173.59,157.66 173.75,157.72 173.92,157.77 174.09,157.83 174.25,157.88 174.42,157.94 174.58,157.99 174.75,158.04 174.92,158.10 175.08,158.15 175.25,158.20 175.41,158.25 175.58,158.30 175.75,158.35 175.91,158.40 176.08,158.45 176.24,158.49 176.41,158.54 176.58,158.59 176.74,158.63 176.91,158.68 177.07,158.72 177.24,158.77 177.40,158.81 177.57,158.85 177.74,158.90 177.90,158.94 178.07,158.98 178.23,159.02 178.40,159.06 178.57,159.10 178.73,159.14 178.90,159.18 179.06,159.22 179.23,159.26 179.40,159.30 179.56,159.34 179.73,159.37 179.89,159.41 180.06,159.45 180.23,159.48 180.39,159.52 180.56,159.55 180.72,159.59 180.89,159.62 181.06,159.66 181.22,159.69 181.39,159.73 181.55,159.76 181.72,159.79 181.89,159.83 182.05,159.86 182.22,159.89 182.38,159.92 182.55,159.96 182.72,159.99 182.88,160.02 183.05,160.05 183.21,160.08 183.38,160.11 183.54,160.14 183.71,160.17 183.88,160.20 184.04,160.23 184.21,160.26 184.37,160.28 184.54,160.31 184.71,160.34 184.87,160.37 185.04,160.40 185.20,160.42 185.37,160.45 185.54,160.48 185.70,160.50 185.87,160.53 186.03,160.56 186.20,160.58 186.37,160.61 186.53,160.63 186.70,160.66 186.86,160.68 187.03,160.71 187.20,160.73 187.36,160.76 187.53,160.78 187.69,160.81 187.86,160.83 188.03,160.85 188.19,160.88 188.36,160.90 188.52,160.92 188.69,160.95 188.85,160.97 189.02,160.99 189.19,161.01 189.35,161.04 189.52,161.06 189.68,161.08 189.85,161.10 190.02,161.12 190.18,161.15 190.35,161.17 190.51,161.19 190.68,161.21 190.85,161.23 191.01,161.25 191.18,161.27 191.34,161.29 191.51,161.31 191.68,161.33 191.84,161.35 192.01,161.37 192.17,161.39 192.34,161.41 192.51,161.43 192.67,161.45 192.84,161.47 193.00,161.48 193.17,161.50 193.34,161.52 193.50,161.54 193.67,161.56 193.83,161.58 194.00,161.59 194.17,161.61 194.33,161.63 194.50,161.65 194.66,161.67 194.83,161.68 194.99,161.70 195.16,161.72 195.33,161.73 195.49,161.75 195.66,161.77 195.82,161.78 195.99,161.80 196.16,161.82 196.32,161.83 196.49,161.85 196.65,161.87 196.82,161.88 196.99,161.90 197.15,161.91 197.32,161.93 197.48,161.95 197.65,161.96 197.82,161.98 197.98,161.99 198.15,162.01 198.31,162.02 198.48,162.04 198.65,162.05 198.81,162.07 198.98,162.08 199.14,162.10 199.31,162.11 199.48,162.13 199.64,162.14 199.81,162.15 199.97,162.17 200.14,162.18 200.30,162.20 200.47,162.21 200.64,162.22 200.80,162.24 200.97,162.25 201.13,162.27 201.30,162.28 201.47,162.29 201.63,162.31 201.80,162.32 201.96,162.33 202.13,162.35 202.30,162.36 202.46,162.37 202.63,162.38 202.79,162.40 202.96,162.41 203.13,162.42 203.29,162.43 203.46,162.45 203.62,162.46 203.79,162.47 203.96,162.48 204.12,162.50 204.29,162.51 204.45,162.52 204.62,162.53 204.79,162.54 204.95,162.56 205.12,162.57 205.28,162.58 205.45,162.59 205.62,162.60 205.78,162.61 205.95,162.63 206.11,162.64 206.28,162.65 206.44,162.66 206.61,162.67 206.78,162.68 206.94,162.69 207.11,162.70 207.27,162.72 207.44,162.73 207.61,162.74 207.77,162.75 207.94,162.76 208.10,162.77 208.27,162.78 208.44,162.79 208.60,162.80 208.77,162.81 208.93,162.82 209.10,162.83 209.27,162.84 209.43,162.85 209.60,162.86 209.76,162.87 209.93,162.88 210.10,162.89 210.26,162.90 210.43,162.91 210.59,162.92 210.76,162.93 210.93,162.94 211.09,162.95 211.26,162.96 211.42,162.97 211.59,162.98 211.75,162.99 211.92,163.00 212.09,163.01 212.25,163.02 212.42,163.03 212.58,163.04 212.75,163.05 212.92,163.06 213.08,163.07 213.25,163.07 213.41,163.08 213.58,163.09 213.75,163.10 213.91,163.11 214.08,163.12 214.24,163.13 214.41,163.14 214.58,163.15 214.74,163.15 214.91,163.16 215.07,163.17 215.24,163.18 215.41,163.19 215.57,163.20 215.74,163.21 215.90,163.21 216.07,163.22 216.24,163.23 216.40,163.24 216.57,163.25 216.73,163.26 216.90,163.26 217.07,163.27 217.23,163.28 217.40,163.29 217.56,163.30 217.73,163.30 217.89,163.31 218.06,163.32 218.23,163.33 218.39,163.34 218.56,163.34 218.72,163.35 218.89,163.36 219.06,163.37 219.22,163.37 219.39,163.38 219.55,163.39 219.72,163.40 219.89,163.41 220.05,163.41 220.22,163.42 220.38,163.43 220.55,163.44 220.72,163.44 220.88,163.45 221.05,163.46 221.21,163.46 221.38,163.47 221.55,163.48 221.71,163.49 221.88,163.49 222.04,163.50 222.21,163.51 222.38,163.51 222.54,163.52 222.71,163.53 222.87,163.54 223.04,163.54 223.21,163.55 223.37,163.56 223.54,163.56 223.70,163.57 223.87,163.58 224.03,163.58 224.20,163.59 224.37,163.60 224.53,163.60 224.70,163.61 224.86,163.62 225.03,163.62 225.20,163.63 225.36,163.64 225.53,163.64 225.69,163.65 225.86,163.66 226.03,163.66 226.19,163.67 226.36,163.67 226.52,163.68 226.69,163.69 226.86,163.69 227.02,163.70 227.19,163.71 227.35,163.71 227.52,163.72 227.69,163.73 227.85,163.73 228.02,163.74 228.18,163.74 228.35,163.75 228.52,163.76 228.68,163.76 228.85,163.77 229.01,163.77 229.18,163.78 229.34,163.79 229.51,163.79 229.68,163.80 229.84,163.80 230.01,163.81 230.17,163.81 230.34,163.82 230.51,163.83 230.67,163.83 230.84,163.84 231.00,163.84 231.17,163.85 231.34,163.85 231.50,163.86 231.67,163.87 231.83,163.87 232.00,163.88 232.17,163.88 232.33,163.89 232.50,163.89 232.66,163.90 232.83,163.90 233.00,163.91 233.16,163.92 233.33,163.92 233.49,163.93 233.66,163.93 233.83,163.94 233.99,163.94 234.16,163.95 234.32,163.95 234.49,163.96 234.66,163.96 234.82,163.97 234.99,163.97 235.15,163.98 235.32,163.98 235.48,163.99 235.65,163.99 235.82,164.00 235.98,164.00 236.15,164.01 236.31,164.01 236.48,164.02 236.65,164.02 236.81,164.03 236.98,164.03 237.14,164.04 237.31,164.04 237.48,164.05 237.64,164.05 237.81,164.06 237.97,164.06 238.14,164.07 238.31,164.07 238.47,164.08 238.64,164.08 238.80,164.09 238.97,164.09 239.14,164.10 239.30,164.10 239.47,164.11 239.63,164.11 239.80,164.12 239.97,164.12 240.13,164.13 240.30,164.13 240.46,164.13 240.63,164.14 240.79,164.14 240.96,164.15 241.13,164.15 241.29,164.16 241.46,164.16 241.62,164.17 241.79,164.17 241.96,164.18 242.12,164.18 242.29,164.18 242.45,164.19 242.62,164.19 242.79,164.20 242.95,164.20 243.12,164.21 243.28,164.21 243.45,164.22 243.62,164.22 243.78,164.22 243.95,164.23 244.11,164.23 244.28,164.24 244.45,164.24 244.61,164.25 244.78,164.25 244.94,164.25 245.11,164.26 245.28,164.26 245.44,164.27 245.61,164.27 245.77,164.27 245.94,164.28 246.11,164.28 246.27,164.29 246.44,164.29 246.60,164.29 246.77,164.30 246.93,164.30 247.10,164.31 247.27,164.31 247.43,164.31 247.60,164.32 247.76,164.32 247.93,164.33 248.10,164.33 248.26,164.33 248.43,164.34 248.59,164.34 248.76,164.35 248.93,164.35 249.09,164.35 249.26,164.36 249.42,164.36 249.59,164.37 249.76,164.37 249.92,164.37 250.09,164.38 250.25,164.38 250.42,164.38 250.59,164.39 250.75,164.39 250.92,164.40 251.08,164.40 251.25,164.40 251.42,164.41 251.58,164.41 251.75,164.41 251.91,164.42 252.08,164.42 252.24,164.43 252.41,164.43 252.58,164.43 252.74,164.44 252.91,164.44 253.07,164.44 253.24,164.45 253.41,164.45 253.57,164.45 253.74,164.46 253.90,164.46 254.07,164.46 254.24,164.47 254.40,164.47 254.57,164.48 254.73,164.48 254.90,164.48" fill="none" stroke="#0072bd" stroke-width="1.75" stroke-linejoin="round"/>
<polyline clip-path="url(#cBL)" points="32.27,169.05 33.35,169.07 34.43,169.09 35.51,169.11 36.59,169.14 37.67,169.16 38.75,169.19 39.82,169.21 40.90,169.24 41.98,169.27 43.06,169.29 44.14,169.32 45.22,169.35 46.30,169.38 47.37,169.41 48.45,169.44 49.53,169.47 50.61,169.50 51.69,169.53 52.77,169.57 53.85,169.60 54.93,169.64 56.00,169.67 57.08,169.71 58.16,169.75 59.24,169.79 60.32,169.83 61.40,169.87 62.48,169.91 63.55,169.95 64.63,170.00 65.71,170.05 66.79,170.09 67.87,170.14 68.95,170.19 70.03,170.24 71.10,170.30 72.18,170.35 73.26,170.41 74.34,170.47 75.42,170.53 76.50,170.59 77.58,170.66 78.65,170.73 79.73,170.80 80.81,170.87 81.89,170.94 82.97,171.02 84.05,171.11 85.13,171.19 86.20,171.28 87.28,171.37 88.36,171.47 89.44,171.57 90.52,171.67 91.60,171.79 92.68,171.90 93.76,172.02 94.83,172.15 95.91,172.29 96.99,172.43 98.07,172.58 99.15,172.74 100.23,172.92 101.31,173.10 102.38,173.30 103.46,173.51 104.54,173.73 105.62,173.98 106.70,174.25 107.78,174.54 108.86,174.86 109.93,175.22 111.01,175.61 112.09,176.04 113.17,176.52 114.25,177.04 115.33,177.61 116.41,178.22 117.48,178.89 118.56,179.58 119.64,180.30 120.72,181.03 121.80,181.75 122.88,182.43 123.96,183.05 125.03,183.57 126.11,183.98 127.19,184.24 128.27,184.34 129.35,184.25 130.43,183.98 131.51,183.51 132.59,182.85 133.66,182.00 134.74,180.98 135.82,179.80 136.90,178.47 137.98,177.03 139.06,175.47 140.14,173.83 141.21,172.13 142.29,170.37 143.37,168.58 144.45,166.78 145.53,164.97 146.61,163.18 147.69,161.42 148.76,159.72 149.84,158.08 150.92,156.52 152.00,155.08 153.08,153.75 154.16,152.57 155.24,151.55 156.31,150.70 157.39,150.04 158.47,149.57 159.55,149.30 160.63,149.21 161.71,149.31 162.79,149.57 163.87,149.98 164.94,150.50 166.02,151.12 167.10,151.80 168.18,152.52 169.26,153.25 170.34,153.97 171.42,154.66 172.49,155.33 173.57,155.94 174.65,156.51 175.73,157.03 176.81,157.51 177.89,157.94 178.97,158.33 180.04,158.69 181.12,159.01 182.20,159.30 183.28,159.57 184.36,159.82 185.44,160.04 186.52,160.25 187.59,160.45 188.67,160.63 189.75,160.81 190.83,160.97 191.91,161.12 192.99,161.26 194.07,161.40 195.14,161.53 196.22,161.65 197.30,161.76 198.38,161.88 199.46,161.98 200.54,162.08 201.62,162.18 202.70,162.27 203.77,162.36 204.85,162.44 205.93,162.53 207.01,162.61 208.09,162.68 209.17,162.75 210.25,162.82 211.32,162.89 212.40,162.96 213.48,163.02 214.56,163.08 215.64,163.14 216.72,163.20 217.80,163.25 218.87,163.31 219.95,163.36 221.03,163.41 222.11,163.46 223.19,163.50 224.27,163.55 225.35,163.60 226.42,163.64 227.50,163.68 228.58,163.72 229.66,163.76 230.74,163.80 231.82,163.84 232.90,163.88 233.97,163.91 235.05,163.95 236.13,163.98 237.21,164.02 238.29,164.05 239.37,164.08 240.45,164.11 241.53,164.14 242.60,164.17 243.68,164.20 244.76,164.23 245.84,164.26 246.92,164.28 248.00,164.31 249.08,164.34 250.15,164.36 251.23,164.39 252.31,164.41 253.39,164.44 254.47,164.46 255.55,164.48 256.63,164.50" fill="none" stroke="#d95319" stroke-width="1.75" stroke-linejoin="round"/>
<polyline clip-path="url(#cBL)" points="32.27,169.09 33.35,169.12 34.43,169.14 35.51,169.17 36.59,169.19 37.67,169.22 38.75,169.25 39.82,169.27 40.90,169.30 41.98,169.33 43.06,169.36 44.14,169.39 45.22,169.42 46.30,169.45 47.37,169.49 48.45,169.52 49.53,169.55 50.61,169.59 51.69,169.63 52.77,169.66 53.85,169.70 54.93,169.74 56.00,169.78 57.08,169.82 58.16,169.87 59.24,169.91 60.32,169.96 61.40,170.00 62.48,170.05 63.55,170.10 64.63,170.16 65.71,170.21 66.79,170.27 67.87,170.32 68.95,170.38 70.03,170.45 71.10,170.51 72.18,170.58 73.26,170.65 74.34,170.73 75.42,170.81 76.50,170.89 77.58,170.97 78.65,171.06 79.73,171.16 80.81,171.26 81.89,171.36 82.97,171.47 84.05,171.59 85.13,171.71 86.20,171.84 87.28,171.98 88.36,172.12 89.44,172.27 90.52,172.43 91.60,172.60 92.68,172.78 93.76,172.96 94.83,173.15 95.91,173.36 96.99,173.56 98.07,173.78 99.15,174.00 100.23,174.23 101.31,174.46 102.38,174.69 103.46,174.92 104.54,175.15 105.62,175.38 106.70,175.60 107.78,175.82 108.86,176.02 109.93,176.21 111.01,176.38 112.09,176.53 113.17,176.66 114.25,176.76 115.33,176.84 116.41,176.88 117.48,176.90 118.56,176.88 119.64,176.82 120.72,176.73 121.80,176.60 122.88,176.43 123.96,176.23 125.03,175.99 126.11,175.71 127.19,175.39 128.27,175.04 129.35,174.65 130.43,174.24 131.51,173.79 132.59,173.31 133.66,172.80 134.74,172.27 135.82,171.72 136.90,171.15 137.98,170.56 139.06,169.95 140.14,169.33 141.21,168.70 142.29,168.06 143.37,167.42 144.45,166.78 145.53,166.13 146.61,165.49 147.69,164.85 148.76,164.22 149.84,163.60 150.92,162.99 152.00,162.40 153.08,161.83 154.16,161.28 155.24,160.75 156.31,160.24 157.39,159.76 158.47,159.31 159.55,158.90 160.63,158.51 161.71,158.16 162.79,157.84 163.87,157.56 164.94,157.32 166.02,157.12 167.10,156.95 168.18,156.82 169.26,156.73 170.34,156.67 171.42,156.65 172.49,156.67 173.57,156.71 174.65,156.79 175.73,156.89 176.81,157.02 177.89,157.17 178.97,157.34 180.04,157.53 181.12,157.73 182.20,157.95 183.28,158.17 184.36,158.40 185.44,158.63 186.52,158.86 187.59,159.09 188.67,159.32 189.75,159.55 190.83,159.77 191.91,159.99 192.99,160.19 194.07,160.40 195.14,160.59 196.22,160.77 197.30,160.95 198.38,161.12 199.46,161.28 200.54,161.43 201.62,161.57 202.70,161.71 203.77,161.84 204.85,161.96 205.93,162.08 207.01,162.19 208.09,162.29 209.17,162.39 210.25,162.49 211.32,162.58 212.40,162.66 213.48,162.74 214.56,162.82 215.64,162.90 216.72,162.97 217.80,163.04 218.87,163.10 219.95,163.17 221.03,163.23 222.11,163.28 223.19,163.34 224.27,163.39 225.35,163.45 226.42,163.50 227.50,163.55 228.58,163.59 229.66,163.64 230.74,163.68 231.82,163.73 232.90,163.77 233.97,163.81 235.05,163.85 236.13,163.89 237.21,163.92 238.29,163.96 239.37,164.00 240.45,164.03 241.53,164.06 242.60,164.10 243.68,164.13 244.76,164.16 245.84,164.19 246.92,164.22 248.00,164.25 249.08,164.28 250.15,164.30 251.23,164.33 252.31,164.36 253.39,164.38 254.47,164.41 255.55,164.43 256.63,164.46" fill="none" stroke="#edb120" stroke-width="1.75" stroke-linejoin="round"/>
<polyline clip-path="url(#cBL)" points="32.27,169.40 33.35,169.43 34.43,169.47 35.51,169.51 36.59,169.55 37.67,169.59 38.75,169.63 39.82,169.67 40.90,169.72 41.98,169.76 43.06,169.81 44.14,169.85 45.22,169.90 46.30,169.95 47.37,170.00 48.45,170.05 49.53,170.11 50.61,170.16 51.69,170.22 52.77,170.27 53.85,170.33 54.93,170.39 56.00,170.45 57.08,170.51 58.16,170.57 59.24,170.63 60.32,170.69 61.40,170.76 62.48,170.82 63.55,170.88 64.63,170.95 65.71,171.01 66.79,171.07 67.87,171.13 68.95,171.20 70.03,171.26 71.10,171.32 72.18,171.38 73.26,171.44 74.34,171.50 75.42,171.55 76.50,171.61 77.58,171.66 78.65,171.71 79.73,171.76 80.81,171.80 81.89,171.84 82.97,171.88 84.05,171.92 85.13,171.95 86.20,171.98 87.28,172.00 88.36,172.02 89.44,172.04 90.52,172.05 91.60,172.06 92.68,172.06 93.76,172.06 94.83,172.06 95.91,172.04 96.99,172.03 98.07,172.00 99.15,171.98 100.23,171.95 101.31,171.91 102.38,171.86 103.46,171.82 104.54,171.76 105.62,171.70 106.70,171.64 107.78,171.57 108.86,171.49 109.93,171.41 111.01,171.32 112.09,171.23 113.17,171.14 114.25,171.03 115.33,170.93 116.41,170.82 117.48,170.70 118.56,170.58 119.64,170.46 120.72,170.33 121.80,170.20 122.88,170.06 123.96,169.92 125.03,169.77 126.11,169.63 127.19,169.48 128.27,169.32 129.35,169.17 130.43,169.01 131.51,168.85 132.59,168.68 133.66,168.51 134.74,168.35 135.82,168.18 136.90,168.00 137.98,167.83 139.06,167.66 140.14,167.48 141.21,167.31 142.29,167.13 143.37,166.95 144.45,166.78 145.53,166.60 146.61,166.42 147.69,166.24 148.76,166.07 149.84,165.89 150.92,165.72 152.00,165.55 153.08,165.37 154.16,165.20 155.24,165.04 156.31,164.87 157.39,164.70 158.47,164.54 159.55,164.38 160.63,164.23 161.71,164.07 162.79,163.92 163.87,163.78 164.94,163.63 166.02,163.49 167.10,163.35 168.18,163.22 169.26,163.09 170.34,162.97 171.42,162.85 172.49,162.73 173.57,162.62 174.65,162.52 175.73,162.41 176.81,162.32 177.89,162.23 178.97,162.14 180.04,162.06 181.12,161.98 182.20,161.91 183.28,161.85 184.36,161.79 185.44,161.73 186.52,161.69 187.59,161.64 188.67,161.60 189.75,161.57 190.83,161.55 191.91,161.52 192.99,161.51 194.07,161.49 195.14,161.49 196.22,161.49 197.30,161.49 198.38,161.50 199.46,161.51 200.54,161.53 201.62,161.55 202.70,161.57 203.77,161.60 204.85,161.63 205.93,161.67 207.01,161.71 208.09,161.75 209.17,161.79 210.25,161.84 211.32,161.89 212.40,161.94 213.48,162.00 214.56,162.05 215.64,162.11 216.72,162.17 217.80,162.23 218.87,162.29 219.95,162.35 221.03,162.42 222.11,162.48 223.19,162.54 224.27,162.60 225.35,162.67 226.42,162.73 227.50,162.79 228.58,162.86 229.66,162.92 230.74,162.98 231.82,163.04 232.90,163.10 233.97,163.16 235.05,163.22 236.13,163.28 237.21,163.33 238.29,163.39 239.37,163.44 240.45,163.50 241.53,163.55 242.60,163.60 243.68,163.65 244.76,163.70 245.84,163.74 246.92,163.79 248.00,163.83 249.08,163.88 250.15,163.92 251.23,163.96 252.31,164.00 253.39,164.04 254.47,164.08 255.55,164.12 256.63,164.15" fill="none" stroke="#7e2f8e" stroke-width="1.75" stroke-linejoin="round"/>
<polyline clip-path="url(#cTR)" points="359.40,105.05 359.68,105.03 359.96,105.01 360.24,104.99 360.52,104.96 360.80,104.94 361.09,104.91 361.37,104.88 361.65,104.84 361.93,104.81 362.21,104.77 362.49,104.73 362.77,104.69 363.05,104.65 363.33,104.60 363.61,104.55 363.89,104.50 364.17,104.44 364.45,104.38 364.73,104.32 365.01,104.25 365.29,104.18 365.58,104.11 365.86,104.03 366.14,103.95 366.42,103.86 366.70,103.76 366.98,103.67 367.26,103.56 367.54,103.46 367.82,103.34 368.10,103.22 368.38,103.10 368.66,102.96 368.94,102.82 369.22,102.68 369.50,102.53 369.78,102.37 370.07,102.21 370.35,102.03 370.63,101.85 370.91,101.66 371.19,101.46 371.47,101.26 371.75,101.05 372.03,100.82 372.31,100.60 372.59,100.35 372.87,100.11 373.15,99.85 373.43,99.58 373.71,99.31 373.99,99.02 374.27,98.72 374.56,98.42 374.84,98.10 375.12,97.77 375.40,97.44 375.68,97.09 375.96,96.73 376.24,96.37 376.52,95.99 376.80,95.60 377.08,95.20 377.36,94.79 377.64,94.38 377.92,93.95 378.20,93.50 378.48,93.06 378.76,92.60 379.05,92.13 379.33,91.65 379.61,91.16 379.89,90.66 380.17,90.16 380.45,89.63 380.73,89.11 381.01,88.58 381.29,88.03 381.57,87.49 381.85,86.92 382.13,86.36 382.41,85.79 382.69,85.20 382.97,84.62 383.25,84.02 383.54,83.42 383.82,82.82 384.10,82.20 384.38,81.59 384.66,80.97 384.94,80.34 385.22,79.71 385.50,79.08 385.78,78.44 386.06,77.80 386.34,77.16 386.62,76.51 386.90,75.87 387.18,75.22 387.46,74.58 387.74,73.93 388.03,73.28 388.31,72.63 388.59,71.99 388.87,71.34 389.15,70.70 389.43,70.06 389.71,69.42 389.99,68.78 390.27,68.15 390.55,67.52 390.83,66.89 391.11,66.27 391.39,65.65 391.67,65.04 391.95,64.43 392.23,63.83 392.52,63.23 392.80,62.65 393.08,62.06 393.36,61.49 393.64,60.92 393.92,60.35 394.20,59.80 394.48,59.26 394.76,58.71 395.04,58.19 395.32,57.67 395.60,57.15 395.88,56.65 396.16,56.16 396.44,55.67 396.72,55.20 397.01,54.73 397.29,54.28 397.57,53.83 397.85,53.39 398.13,52.97 398.41,52.56 398.69,52.15 398.97,51.77 399.25,51.38 399.53,51.01 399.81,50.66 400.09,50.31 400.37,49.97 400.65,49.65 400.93,49.33 401.21,49.04 401.50,48.75 401.78,48.46 402.06,48.21 402.34,47.95 402.62,47.71 402.90,47.48 403.18,47.26 403.46,47.06 403.74,46.87 404.02,46.68 404.30,46.52 404.58,46.37 404.86,46.21 405.14,46.09 405.42,45.97 405.70,45.86 405.99,45.77 406.27,45.69 406.55,45.62 406.83,45.57 407.11,45.52 407.39,45.49 407.67,45.47 407.95,45.46 408.23,45.47 408.51,45.49 408.79,45.52 409.07,45.57 409.35,45.62 409.63,45.69 409.91,45.77 410.20,45.86 410.48,45.97 410.76,46.09 411.04,46.21 411.32,46.37 411.60,46.52 411.88,46.68 412.16,46.87 412.44,47.06 412.72,47.26 413.00,47.48 413.28,47.71 413.56,47.95 413.84,48.21 414.12,48.46 414.40,48.75 414.69,49.04 414.97,49.33 415.25,49.65 415.53,49.97 415.81,50.31 416.09,50.66 416.37,51.01 416.65,51.38 416.93,51.77 417.21,52.15 417.49,52.56 417.77,52.97 418.05,53.39 418.33,53.83 418.61,54.28 418.89,54.73 419.18,55.20 419.46,55.67 419.74,56.16 420.02,56.65 420.30,57.15 420.58,57.67 420.86,58.19 421.14,58.71 421.42,59.26 421.70,59.80 421.98,60.35 422.26,60.92 422.54,61.49 422.82,62.06 423.10,62.65 423.38,63.23 423.67,63.83 423.95,64.43 424.23,65.04 424.51,65.65 424.79,66.27 425.07,66.89 425.35,67.52 425.63,68.15 425.91,68.78 426.19,69.42 426.47,70.06 426.75,70.70 427.03,71.34 427.31,71.99 427.59,72.63 427.87,73.28 428.16,73.93 428.44,74.58 428.72,75.22 429.00,75.87 429.28,76.51 429.56,77.16 429.84,77.80 430.12,78.44 430.40,79.08 430.68,79.71 430.96,80.34 431.24,80.97 431.52,81.59 431.80,82.20 432.08,82.82 432.36,83.42 432.65,84.02 432.93,84.62 433.21,85.20 433.49,85.79 433.77,86.36 434.05,86.92 434.33,87.49 434.61,88.03 434.89,88.58 435.17,89.11 435.45,89.63 435.73,90.16 436.01,90.66 436.29,91.16 436.57,91.65 436.85,92.13 437.14,92.60 437.42,93.06 437.70,93.50 437.98,93.95 438.26,94.38 438.54,94.79 438.82,95.20 439.10,95.60 439.38,95.99 439.66,96.37 439.94,96.73 440.22,97.09 440.50,97.44 440.78,97.77 441.06,98.10 441.34,98.42 441.63,98.72 441.91,99.02 442.19,99.31 442.47,99.58 442.75,99.85 443.03,100.11 443.31,100.35 443.59,100.60 443.87,100.82 444.15,101.05 444.43,101.26 444.71,101.46 444.99,101.66 445.27,101.85 445.55,102.03 445.83,102.21 446.12,102.37 446.40,102.53 446.68,102.68 446.96,102.82 447.24,102.96 447.52,103.10 447.80,103.22 448.08,103.34 448.36,103.46 448.64,103.56 448.92,103.67 449.20,103.76 449.48,103.86 449.76,103.95 450.04,104.03 450.32,104.11 450.61,104.18 450.89,104.25 451.17,104.32 451.45,104.38 451.73,104.44 452.01,104.50 452.29,104.55 452.57,104.60 452.85,104.65 453.13,104.69 453.41,104.73 453.69,104.77 453.97,104.81 454.25,104.84 454.53,104.88 454.81,104.91 455.10,104.94 455.38,104.96 455.66,104.99 455.94,105.01 456.22,105.03 456.50,105.05" fill="none" stroke="#d95319" stroke-width="1.75" stroke-linejoin="round"/>
<polyline clip-path="url(#cTR)" points="366.98,104.78 367.26,104.73 367.54,104.69 367.82,104.64 368.10,104.59 368.38,104.54 368.66,104.48 368.94,104.41 369.22,104.35 369.50,104.28 369.78,104.20 370.07,104.12 370.35,104.04 370.63,103.95 370.91,103.85 371.19,103.75 371.47,103.64 371.75,103.52 372.03,103.40 372.31,103.28 372.59,103.14 372.87,103.00 373.15,102.85 373.43,102.69 373.71,102.52 373.99,102.35 374.27,102.16 374.56,101.97 374.84,101.76 375.12,101.55 375.40,101.33 375.68,101.09 375.96,100.84 376.24,100.59 376.52,100.32 376.80,100.04 377.08,99.74 377.36,99.44 377.64,99.12 377.92,98.79 378.20,98.44 378.48,98.09 378.76,97.71 379.05,97.33 379.33,96.93 379.61,96.51 379.89,96.08 380.17,95.64 380.45,95.19 380.73,94.71 381.01,94.22 381.29,93.72 381.57,93.20 381.85,92.67 382.13,92.12 382.41,91.56 382.69,90.98 382.97,90.39 383.25,89.78 383.54,89.16 383.82,88.52 384.10,87.87 384.38,87.21 384.66,86.53 384.94,85.84 385.22,85.13 385.50,84.41 385.78,83.68 386.06,82.94 386.34,82.19 386.62,81.42 386.90,80.65 387.18,79.86 387.46,79.06 387.74,78.26 388.03,77.44 388.31,76.62 388.59,75.79 388.87,74.96 389.15,74.11 389.43,73.26 389.71,72.41 389.99,71.55 390.27,70.69 390.55,69.82 390.83,68.95 391.11,68.08 391.39,67.21 391.67,66.34 391.95,65.47 392.23,64.60 392.52,63.73 392.80,62.86 393.08,61.99 393.36,61.13 393.64,60.28 393.92,59.43 394.20,58.58 394.48,57.74 394.76,56.91 395.04,56.08 395.32,55.26 395.60,54.46 395.88,53.66 396.16,52.87 396.44,52.09 396.72,51.32 397.01,50.57 397.29,49.82 397.57,49.09 397.85,48.37 398.13,47.67 398.41,46.98 398.69,46.31 398.97,45.65 399.25,45.01 399.53,44.38 399.81,43.77 400.09,43.18 400.37,42.60 400.65,42.04 400.93,41.50 401.21,40.98 401.50,40.48 401.78,39.99 402.06,39.53 402.34,39.09 402.62,38.66 402.90,38.25 403.18,37.87 403.46,37.51 403.74,37.17 404.02,36.84 404.30,36.55 404.58,36.27 404.86,36.01 405.14,35.78 405.42,35.56 405.70,35.37 405.99,35.20 406.27,35.06 406.55,34.93 406.83,34.83 407.11,34.75 407.39,34.70 407.67,34.66 407.95,34.65 408.23,34.66 408.51,34.70 408.79,34.75 409.07,34.83 409.35,34.93 409.63,35.06 409.91,35.20 410.20,35.37 410.48,35.56 410.76,35.78 411.04,36.01 411.32,36.27 411.60,36.55 411.88,36.84 412.16,37.17 412.44,37.51 412.72,37.87 413.00,38.25 413.28,38.66 413.56,39.09 413.84,39.53 414.12,39.99 414.40,40.48 414.69,40.98 414.97,41.50 415.25,42.04 415.53,42.60 415.81,43.18 416.09,43.77 416.37,44.38 416.65,45.01 416.93,45.65 417.21,46.31 417.49,46.98 417.77,47.67 418.05,48.37 418.33,49.09 418.61,49.82 418.89,50.57 419.18,51.32 419.46,52.09 419.74,52.87 420.02,53.66 420.30,54.46 420.58,55.26 420.86,56.08 421.14,56.91 421.42,57.74 421.70,58.58 421.98,59.43 422.26,60.28 422.54,61.13 422.82,61.99 423.10,62.86 423.38,63.73 423.67,64.60 423.95,65.47 424.23,66.34 424.51,67.21 424.79,68.08 425.07,68.95 425.35,69.82 425.63,70.69 425.91,71.55 426.19,72.41 426.47,73.26 426.75,74.11 427.03,74.96 427.31,75.79 427.59,76.62 427.87,77.44 428.16,78.26 428.44,79.06 428.72,79.86 429.00,80.65 429.28,81.42 429.56,82.19 429.84,82.94 430.12,83.68 430.40,84.41 430.68,85.13 430.96,85.84 431.24,86.53 431.52,87.21 431.80,87.87 432.08,88.52 432.36,89.16 432.65,89.78 432.93,90.39 433.21,90.98 433.49,91.56 433.77,92.12 434.05,92.67 434.33,93.20 434.61,93.72 434.89,94.22 435.17,94.71 435.45,95.19 435.73,95.64 436.01,96.08 436.29,96.51 436.57,96.93 436.85,97.33 437.14,97.71 437.42,98.09 437.70,98.44 437.98,98.79 438.26,99.12 438.54,99.44 438.82,99.74 439.10,100.04 439.38,100.32 439.66,100.59 439.94,100.84 440.22,101.09 440.50,101.33 440.78,101.55 441.06,101.76 441.34,101.97 441.63,102.16 441.91,102.35 442.19,102.52 442.47,102.69 442.75,102.85 443.03,103.00 443.31,103.14 443.59,103.28 443.87,103.40 444.15,103.52 444.43,103.64 444.71,103.75 444.99,103.85 445.27,103.95 445.55,104.04 445.83,104.12 446.12,104.20 446.40,104.28 446.68,104.35 446.96,104.41 447.24,104.48 447.52,104.54 447.80,104.59 448.08,104.64 448.36,104.69 448.64,104.73 448.92,104.78" fill="none" stroke="#edb120" stroke-width="1.75" stroke-linejoin="round"/>
<polyline clip-path="url(#cTR)" points="374.56,102.77 374.84,102.60 375.12,102.42 375.40,102.23 375.68,102.03 375.96,101.82 376.24,101.60 376.52,101.37 376.80,101.13 377.08,100.87 377.36,100.60 377.64,100.32 377.92,100.03 378.20,99.72 378.48,99.40 378.76,99.06 379.05,98.71 379.33,98.34 379.61,97.96 379.89,97.57 380.17,97.16 380.45,96.73 380.73,96.29 381.01,95.83 381.29,95.35 381.57,94.86 381.85,94.35 382.13,93.82 382.41,93.28 382.69,92.71 382.97,92.14 383.25,91.54 383.54,90.93 383.82,90.30 384.10,89.65 384.38,88.99 384.66,88.31 384.94,87.61 385.22,86.90 385.50,86.17 385.78,85.43 386.06,84.67 386.34,83.90 386.62,83.11 386.90,82.31 387.18,81.49 387.46,80.66 387.74,79.82 388.03,78.97 388.31,78.10 388.59,77.22 388.87,76.34 389.15,75.44 389.43,74.54 389.71,73.62 389.99,72.70 390.27,71.77 390.55,70.84 390.83,69.90 391.11,68.96 391.39,68.01 391.67,67.06 391.95,66.11 392.23,65.15 392.52,64.20" fill="none" stroke="#7e2f8e" stroke-width="1.75" stroke-linejoin="round"/>
<polyline clip-path="url(#cTR)" points="395.60,53.90 395.88,53.01 396.16,52.12 396.44,51.24 396.72,50.38 397.01,49.53 397.29,48.68 397.57,47.86 397.85,47.05 398.13,46.25 398.41,45.47 398.69,44.70 398.97,43.95 399.25,43.22 399.53,42.50 399.81,41.81 400.09,41.13 400.37,40.47 400.65,39.83 400.93,39.21 401.21,38.62 401.50,38.04 401.78,37.48 402.06,36.95 402.34,36.44 402.62,35.95 402.90,35.49 403.18,35.05 403.46,34.63 403.74,34.23 404.02,33.87 404.30,33.52 404.58,33.20 404.86,32.90 405.14,32.63 405.42,32.39 405.70,32.17 405.99,31.97 406.27,31.80 406.55,31.66 406.83,31.54 407.11,31.45 407.39,31.39 407.67,31.35 407.95,31.33 408.23,31.35 408.51,31.39 408.79,31.45 409.07,31.54 409.35,31.66 409.63,31.80 409.91,31.97 410.20,32.17 410.48,32.39 410.76,32.63 411.04,32.90 411.32,33.20 411.60,33.52 411.88,33.87 412.16,34.23 412.44,34.63 412.72,35.05 413.00,35.49 413.28,35.95 413.56,36.44 413.84,36.95 414.12,37.48 414.40,38.04 414.69,38.62 414.97,39.21 415.25,39.83 415.53,40.47 415.81,41.13 416.09,41.81 416.37,42.50 416.65,43.22 416.93,43.95 417.21,44.70 417.49,45.47 417.77,46.25 418.05,47.05 418.33,47.86 418.61,48.68 418.89,49.53 419.18,50.38 419.46,51.24 419.74,52.12 420.02,53.01 420.30,53.90" fill="none" stroke="#7e2f8e" stroke-width="1.75" stroke-linejoin="round"/>
<polyline clip-path="url(#cTR)" points="423.38,64.20 423.67,65.15 423.95,66.11 424.23,67.06 424.51,68.01 424.79,68.96 425.07,69.90 425.35,70.84 425.63,71.77 425.91,72.70 426.19,73.62 426.47,74.54 426.75,75.44 427.03,76.34 427.31,77.22 427.59,78.10 427.87,78.97 428.16,79.82 428.44,80.66 428.72,81.49 429.00,82.31 429.28,83.11 429.56,83.90 429.84,84.67 430.12,85.43 430.40,86.17 430.68,86.90 430.96,87.61 431.24,88.31 431.52,88.99 431.80,89.65 432.08,90.30 432.36,90.93 432.65,91.54 432.93,92.14 433.21,92.71 433.49,93.28 433.77,93.82 434.05,94.35 434.33,94.86 434.61,95.35 434.89,95.83 435.17,96.29 435.45,96.73 435.73,97.16 436.01,97.57 436.29,97.96 436.57,98.34 436.85,98.71 437.14,99.06 437.42,99.40 437.70,99.72 437.98,100.03 438.26,100.32 438.54,100.60 438.82,100.87 439.10,101.13 439.38,101.37 439.66,101.60 439.94,101.82 440.22,102.03 440.50,102.23 440.78,102.42 441.06,102.60 441.34,102.77" fill="none" stroke="#7e2f8e" stroke-width="1.75" stroke-linejoin="round"/>
<polyline clip-path="url(#kTR)" points="291.21,105.30 291.49,105.30 291.77,105.30 292.05,105.30 292.33,105.30 292.61,105.30 292.89,105.30 293.17,105.30 293.45,105.30 293.73,105.30 294.02,105.30 294.30,105.30 294.58,105.30 294.86,105.30 295.14,105.30 295.42,105.30 295.70,105.30 295.98,105.30 296.26,105.30 296.54,105.30 296.82,105.30 297.10,105.30 297.38,105.30 297.66,105.30 297.94,105.30 298.22,105.30 298.51,105.30 298.79,105.30 299.07,105.30 299.35,105.30 299.63,105.30 299.91,105.30 300.19,105.30 300.47,105.30 300.75,105.30 301.03,105.30 301.31,105.30 301.59,105.30 301.87,105.30 302.15,105.30 302.43,105.30 302.71,105.30 303.00,105.30 303.28,105.30 303.56,105.30 303.84,105.30 304.12,105.30 304.40,105.30 304.68,105.30 304.96,105.30 305.24,105.30 305.52,105.30 305.80,105.30 306.08,105.30 306.36,105.30 306.64,105.30 306.92,105.30 307.20,105.30 307.49,105.30 307.77,105.30 308.05,105.30 308.33,105.30 308.61,105.30 308.89,105.30 309.17,105.30 309.45,105.30 309.73,105.30 310.01,105.30 310.29,105.30 310.57,105.30 310.85,105.30 311.13,105.30 311.41,105.30 311.69,105.30 311.98,105.30 312.26,105.30 312.54,105.30 312.82,105.30 313.10,105.30 313.38,105.30 313.66,105.30 313.94,105.30 314.22,105.30 314.50,105.30 314.78,105.30 315.06,105.30 315.34,105.30 315.62,105.30 315.90,105.30 316.18,105.30 316.47,105.30 316.75,105.30 317.03,105.30 317.31,105.30 317.59,105.30 317.87,105.30 318.15,105.30 318.43,105.30 318.71,105.30 318.99,105.30 319.27,105.30 319.55,105.30 319.83,105.30 320.11,105.30 320.39,105.30 320.67,105.30 320.96,105.30 321.24,105.30 321.52,105.30 321.80,105.30 322.08,105.30 322.36,105.30 322.64,105.30 322.92,105.30 323.20,105.30 323.48,105.30 323.76,105.30 324.04,105.30 324.32,105.30 324.60,105.30 324.88,105.30 325.16,105.30 325.45,105.30 325.73,105.30 326.01,105.30 326.29,105.30 326.57,105.30 326.85,105.30 327.13,105.30 327.41,105.30 327.69,105.30 327.97,105.30 328.25,105.30 328.53,105.30 328.81,105.30 329.09,105.30 329.37,105.30 329.65,105.30 329.94,105.30 330.22,105.30 330.50,105.30 330.78,105.30 331.06,105.30 331.34,105.30 331.62,105.30 331.90,105.30 332.18,105.30 332.46,105.30 332.74,105.30 333.02,105.30 333.30,105.30 333.58,105.30 333.86,105.30 334.14,105.30 334.43,105.30 334.71,105.30 334.99,105.30 335.27,105.30 335.55,105.30 335.83,105.30 336.11,105.30 336.39,105.30 336.67,105.30 336.95,105.30 337.23,105.30 337.51,105.30 337.79,105.30 338.07,105.30 338.35,105.30 338.64,105.30 338.92,105.30 339.20,105.30 339.48,105.30 339.76,105.30 340.04,105.30 340.32,105.30 340.60,105.30 340.88,105.30 341.16,105.30 341.44,105.30 341.72,105.30 342.00,105.30 342.28,105.30 342.56,105.30 342.84,105.30 343.13,105.30 343.41,105.30 343.69,105.30 343.97,105.30 344.25,105.30 344.53,105.30 344.81,105.30 345.09,105.30 345.37,105.30 345.65,105.30 345.93,105.30 346.21,105.30 346.49,105.30 346.77,105.30 347.05,105.30 347.33,105.30 347.62,105.30 347.90,105.30 348.18,105.30 348.46,105.30 348.74,105.30 349.02,105.30 349.30,105.30 349.58,105.30 349.86,105.30 350.14,105.30 350.42,105.30 350.70,105.30 350.98,105.30 351.26,105.30 351.54,105.30 351.82,105.30 352.11,105.30 352.39,105.30 352.67,105.30 352.95,105.30 353.23,105.30 353.51,105.30 353.79,105.30 354.07,105.30 354.35,105.30 354.63,105.30 354.91,105.30 355.19,105.30 355.47,105.30 355.75,105.29 356.03,105.29 356.31,105.29 356.60,105.29 356.88,105.29 357.16,105.29 357.44,105.29 357.72,105.29 358.00,105.29 358.28,105.29 358.56,105.28 358.84,105.28 359.12,105.28 359.40,105.28 359.68,105.28 359.96,105.27 360.24,105.27 360.52,105.27 360.80,105.26 361.09,105.26 361.37,105.26 361.65,105.25 361.93,105.25 362.21,105.24 362.49,105.23 362.77,105.23 363.05,105.22 363.33,105.21 363.61,105.20 363.89,105.19 364.17,105.18 364.45,105.17 364.73,105.16 365.01,105.15 365.29,105.13 365.58,105.12 365.86,105.10 366.14,105.08 366.42,105.06 366.70,105.04 366.98,105.02 367.26,104.99 367.54,104.96 367.82,104.93 368.10,104.90 368.38,104.87 368.66,104.83 368.94,104.79 369.22,104.75 369.50,104.70 369.78,104.65 370.07,104.60 370.35,104.54 370.63,104.48 370.91,104.41 371.19,104.34 371.47,104.26 371.75,104.18 372.03,104.10 372.31,104.01 372.59,103.91 372.87,103.80 373.15,103.69 373.43,103.58 373.71,103.45 373.99,103.32 374.27,103.18 374.56,103.03 374.84,102.87 375.12,102.70 375.40,102.52 375.68,102.34 375.96,102.14 376.24,101.93 376.52,101.71 376.80,101.48 377.08,101.24 377.36,100.98 377.64,100.72 377.92,100.44 378.20,100.14 378.48,99.83 378.76,99.51 379.05,99.17 379.33,98.82 379.61,98.45 379.89,98.07 380.17,97.67 380.45,97.26 380.73,96.82 381.01,96.37 381.29,95.91 381.57,95.43 381.85,94.93 382.13,94.41 382.41,93.87 382.69,93.32 382.97,92.75 383.25,92.16 383.54,91.55 383.82,90.93 384.10,90.28 384.38,89.62 384.66,88.94 384.94,88.25 385.22,87.53 385.50,86.80 385.78,86.06 386.06,85.29 386.34,84.51 386.62,83.72 386.90,82.91 387.18,82.08 387.46,81.24 387.74,80.39 388.03,79.52 388.31,78.64 388.59,77.75 388.87,76.85 389.15,75.94 389.43,75.01 389.71,74.08 389.99,73.14 390.27,72.19 390.55,71.23 390.83,70.27 391.11,69.30 391.39,68.32 391.67,67.34 391.95,66.36 392.23,65.38 392.52,64.40 392.80,63.41 393.08,62.43 393.36,61.45 393.64,60.47 393.92,59.49 394.20,58.51 394.48,57.55 394.76,56.58 395.04,55.63 395.32,54.68 395.60,53.74 395.88,52.80 396.16,51.88 396.44,50.97 396.72,50.07 397.01,49.18 397.29,48.31 397.57,47.44 397.85,46.60 398.13,45.77 398.41,44.95 398.69,44.15 398.97,43.37 399.25,42.60 399.53,41.86 399.81,41.13 400.09,40.42 400.37,39.73 400.65,39.06 400.93,38.42 401.21,37.79 401.50,37.19 401.78,36.61 402.06,36.05 402.34,35.52 402.62,35.01 402.90,34.52 403.18,34.06 403.46,33.62 403.74,33.21 404.02,32.82 404.30,32.46 404.58,32.12 404.86,31.81 405.14,31.53 405.42,31.27 405.70,31.04 405.99,30.83 406.27,30.66 406.55,30.51 406.83,30.39 407.11,30.29 407.39,30.22 407.67,30.18 407.95,30.17 408.23,30.18 408.51,30.22 408.79,30.29 409.07,30.39 409.35,30.51 409.63,30.66 409.91,30.83 410.20,31.04 410.48,31.27 410.76,31.53 411.04,31.81 411.32,32.12 411.60,32.46 411.88,32.82 412.16,33.21 412.44,33.62 412.72,34.06 413.00,34.52 413.28,35.01 413.56,35.52 413.84,36.05 414.12,36.61 414.40,37.19 414.69,37.79 414.97,38.42 415.25,39.06 415.53,39.73 415.81,40.42 416.09,41.13 416.37,41.86 416.65,42.60 416.93,43.37 417.21,44.15 417.49,44.95 417.77,45.77 418.05,46.60 418.33,47.44 418.61,48.31 418.89,49.18 419.18,50.07 419.46,50.97 419.74,51.88 420.02,52.80 420.30,53.74 420.58,54.68 420.86,55.63 421.14,56.58 421.42,57.55 421.70,58.51 421.98,59.49 422.26,60.47 422.54,61.45 422.82,62.43 423.10,63.41 423.38,64.40 423.67,65.38 423.95,66.36 424.23,67.34 424.51,68.32 424.79,69.30 425.07,70.27 425.35,71.23 425.63,72.19 425.91,73.14 426.19,74.08 426.47,75.01 426.75,75.94 427.03,76.85 427.31,77.75 427.59,78.64 427.87,79.52 428.16,80.39 428.44,81.24 428.72,82.08 429.00,82.91 429.28,83.72 429.56,84.51 429.84,85.29 430.12,86.06 430.40,86.80 430.68,87.53 430.96,88.25 431.24,88.94 431.52,89.62 431.80,90.28 432.08,90.93 432.36,91.55 432.65,92.16 432.93,92.75 433.21,93.32 433.49,93.87 433.77,94.41 434.05,94.93 434.33,95.43 434.61,95.91 434.89,96.37 435.17,96.82 435.45,97.26 435.73,97.67 436.01,98.07 436.29,98.45 436.57,98.82 436.85,99.17 437.14,99.51 437.42,99.83 437.70,100.14 437.98,100.44 438.26,100.72 438.54,100.98 438.82,101.24 439.10,101.48 439.38,101.71 439.66,101.93 439.94,102.14 440.22,102.34 440.50,102.52 440.78,102.70 441.06,102.87 441.34,103.03 441.63,103.18 441.91,103.32 442.19,103.45 442.47,103.58 442.75,103.69 443.03,103.80 443.31,103.91 443.59,104.01 443.87,104.10 444.15,104.18 444.43,104.26 444.71,104.34 444.99,104.41 445.27,104.48 445.55,104.54 445.83,104.60 446.12,104.65 446.40,104.70 446.68,104.75 446.96,104.79 447.24,104.83 447.52,104.87 447.80,104.90 448.08,104.93 448.36,104.96 448.64,104.99 448.92,105.02 449.20,105.04 449.48,105.06 449.76,105.08 450.04,105.10 450.32,105.12 450.61,105.13 450.89,105.15 451.17,105.16 451.45,105.17 451.73,105.18 452.01,105.19 452.29,105.20 452.57,105.21 452.85,105.22 453.13,105.23 453.41,105.23 453.69,105.24 453.97,105.25 454.25,105.25 454.53,105.26 454.81,105.26 455.10,105.26 455.38,105.27 455.66,105.27 455.94,105.27 456.22,105.28 456.50,105.28 456.78,105.28 457.06,105.28 457.34,105.28 457.62,105.29 457.90,105.29 458.18,105.29 458.46,105.29 458.74,105.29 459.02,105.29 459.30,105.29 459.59,105.29 459.87,105.29 460.15,105.29 460.43,105.30 460.71,105.30 460.99,105.30 461.27,105.30 461.55,105.30 461.83,105.30 462.11,105.30 462.39,105.30 462.67,105.30 462.95,105.30 463.23,105.30 463.51,105.30 463.79,105.30 464.08,105.30 464.36,105.30 464.64,105.30 464.92,105.30 465.20,105.30 465.48,105.30 465.76,105.30 466.04,105.30 466.32,105.30 466.60,105.30 466.88,105.30 467.16,105.30 467.44,105.30 467.72,105.30 468.00,105.30 468.28,105.30 468.57,105.30 468.85,105.30 469.13,105.30 469.41,105.30 469.69,105.30 469.97,105.30 470.25,105.30 470.53,105.30 470.81,105.30 471.09,105.30 471.37,105.30 471.65,105.30 471.93,105.30 472.21,105.30 472.49,105.30 472.77,105.30 473.06,105.30 473.34,105.30 473.62,105.30 473.90,105.30 474.18,105.30 474.46,105.30 474.74,105.30 475.02,105.30 475.30,105.30 475.58,105.30 475.86,105.30 476.14,105.30 476.42,105.30 476.70,105.30 476.98,105.30 477.26,105.30 477.55,105.30 477.83,105.30 478.11,105.30 478.39,105.30 478.67,105.30 478.95,105.30 479.23,105.30 479.51,105.30 479.79,105.30 480.07,105.30 480.35,105.30 480.63,105.30 480.91,105.30 481.19,105.30 481.47,105.30 481.76,105.30 482.04,105.30 482.32,105.30 482.60,105.30 482.88,105.30 483.16,105.30 483.44,105.30 483.72,105.30 484.00,105.30 484.28,105.30 484.56,105.30 484.84,105.30 485.12,105.30 485.40,105.30 485.68,105.30 485.96,105.30 486.25,105.30 486.53,105.30 486.81,105.30 487.09,105.30 487.37,105.30 487.65,105.30 487.93,105.30 488.21,105.30 488.49,105.30 488.77,105.30 489.05,105.30 489.33,105.30 489.61,105.30 489.89,105.30 490.17,105.30 490.45,105.30 490.74,105.30 491.02,105.30 491.30,105.30 491.58,105.30 491.86,105.30 492.14,105.30 492.42,105.30 492.70,105.30 492.98,105.30 493.26,105.30 493.54,105.30 493.82,105.30 494.10,105.30 494.38,105.30 494.66,105.30 494.94,105.30 495.23,105.30 495.51,105.30 495.79,105.30 496.07,105.30 496.35,105.30 496.63,105.30 496.91,105.30 497.19,105.30 497.47,105.30 497.75,105.30 498.03,105.30 498.31,105.30 498.59,105.30 498.87,105.30 499.15,105.30 499.43,105.30 499.72,105.30 500.00,105.30 500.28,105.30 500.56,105.30 500.84,105.30 501.12,105.30 501.40,105.30 501.68,105.30 501.96,105.30 502.24,105.30 502.52,105.30 502.80,105.30 503.08,105.30 503.36,105.30 503.64,105.30 503.92,105.30 504.21,105.30 504.49,105.30 504.77,105.30 505.05,105.30 505.33,105.30 505.61,105.30 505.89,105.30 506.17,105.30 506.45,105.30 506.73,105.30 507.01,105.30 507.29,105.30 507.57,105.30 507.85,105.30 508.13,105.30 508.41,105.30 508.70,105.30 508.98,105.30 509.26,105.30 509.54,105.30 509.82,105.30 510.10,105.30 510.38,105.30 510.66,105.30 510.94,105.30 511.22,105.30 511.50,105.30 511.78,105.30 512.06,105.30 512.34,105.30 512.62,105.30 512.90,105.30 513.19,105.30 513.47,105.30 513.75,105.30 514.03,105.30 514.31,105.30 514.59,105.30 514.87,105.30 515.15,105.30 515.43,105.30 515.71,105.30 515.99,105.30 516.27,105.30 516.55,105.30 516.83,105.30 517.11,105.30 517.39,105.30 517.68,105.30 517.96,105.30 518.24,105.30 518.52,105.30 518.80,105.30 519.08,105.30 519.36,105.30 519.64,105.30 519.92,105.30 520.20,105.30 520.48,105.30 520.76,105.30 521.04,105.30 521.32,105.30 521.60,105.30 521.88,105.30 522.17,105.30 522.45,105.30 522.73,105.30 523.01,105.30 523.29,105.30 523.57,105.30 523.85,105.30 524.13,105.30 524.41,105.30 524.69,105.30" fill="none" stroke="#000" stroke-width="2.6" stroke-linejoin="round"/>
<polyline clip-path="url(#cBR)" points="346.32,176.70 346.60,176.76 346.87,176.81 347.15,176.87 347.42,176.92 347.70,176.98 347.97,177.03 348.25,177.09 348.52,177.15 348.80,177.21 349.07,177.27 349.35,177.33 349.62,177.39 349.90,177.45 350.17,177.51 350.45,177.58 350.72,177.64 351.00,177.71 351.27,177.77 351.55,177.84 351.82,177.91 352.10,177.98 352.37,178.05 352.65,178.12 352.92,178.19 353.20,178.26 353.48,178.34 353.75,178.42 354.03,178.49 354.30,178.57 354.58,178.65 354.85,178.73 355.13,178.81 355.40,178.90 355.68,178.98 355.95,179.07 356.23,179.15 356.50,179.24 356.78,179.34 357.05,179.43 357.33,179.52 357.60,179.62 357.88,179.71 358.15,179.81 358.43,179.91 358.70,180.02 358.98,180.12 359.25,180.22 359.53,180.33 359.80,180.44 360.08,180.55 360.35,180.67 360.63,180.78 360.90,180.90 361.18,181.02 361.45,181.14 361.73,181.27 362.00,181.40 362.28,181.52 362.55,181.66 362.83,181.79 363.10,181.92 363.38,182.06 363.65,182.21 363.93,182.35 364.21,182.49 364.48,182.64 364.76,182.79 365.03,182.95 365.31,183.10 365.58,183.26 365.86,183.42 366.13,183.58 366.41,183.75 366.68,183.92 366.96,184.09 367.23,184.26 367.51,184.44 367.78,184.62 368.06,184.80 368.33,184.98 368.61,185.16 368.88,185.35 369.16,185.54 369.43,185.73 369.71,185.93 369.98,186.12 370.26,186.32 370.53,186.52 370.81,186.72 371.08,186.92 371.36,187.13 371.63,187.33 371.91,187.54 372.18,187.75 372.46,187.96 372.73,188.16 373.01,188.37 373.28,188.59 373.56,188.80 373.83,189.01 374.11,189.22 374.38,189.43 374.66,189.64 374.93,189.85 375.21,190.05 375.49,190.26 375.76,190.47 376.04,190.67 376.31,190.87 376.59,191.07 376.86,191.27 377.14,191.46 377.41,191.65 377.69,191.84 377.96,192.03 378.24,192.21 378.51,192.39 378.79,192.56 379.06,192.73 379.34,192.89 379.61,193.05 379.89,193.21 380.16,193.35 380.44,193.49 380.71,193.63 380.99,193.76 381.26,193.88 381.54,194.00 381.81,194.11 382.09,194.21 382.36,194.30 382.64,194.39 382.91,194.47 383.19,194.54 383.46,194.60 383.74,194.66 384.01,194.70 384.29,194.74 384.56,194.76 384.84,194.78 385.11,194.79 385.39,194.79 385.66,194.78 385.94,194.76 386.22,194.73 386.49,194.69 386.77,194.64 387.04,194.58 387.32,194.51 387.59,194.43 387.87,194.34 388.14,194.24 388.42,194.13 388.69,194.00 388.97,193.88 389.24,193.73 389.52,193.58 389.79,193.42 390.07,193.25 390.34,193.07 390.62,192.88 390.89,192.67 391.17,192.47 391.44,192.24 391.72,192.01 391.99,191.78 392.27,191.52 392.54,191.26 392.82,191.00 393.09,190.71 393.37,190.43 393.64,190.14 393.92,189.83 394.19,189.52 394.47,189.20 394.74,188.87 395.02,188.54 395.29,188.19 395.57,187.84 395.84,187.48 396.12,187.11 396.39,186.73 396.67,186.35 396.94,185.96 397.22,185.57 397.50,185.17 397.77,184.76 398.05,184.35 398.32,183.92 398.60,183.50 398.87,183.07 399.15,182.63 399.42,182.18 399.70,181.74 399.97,181.28 400.25,180.83 400.52,180.36 400.80,179.90 401.07,179.43 401.35,178.95 401.62,178.47 401.90,177.99 402.17,177.50 402.45,177.02 402.72,176.52 403.00,176.03 403.27,175.53 403.55,175.03 403.82,174.52 404.10,174.02 404.37,173.51 404.65,173.00 404.92,172.49 405.20,171.97 405.47,171.46 405.75,170.94 406.02,170.42 406.30,169.90 406.57,169.38 406.85,168.86 407.12,168.34 407.40,167.82 407.67,167.30 407.95,166.78 408.23,166.25 408.50,165.73 408.78,165.21 409.05,164.69 409.33,164.17 409.60,163.65 409.88,163.13 410.15,162.61 410.43,162.09 410.70,161.58 410.98,161.06 411.25,160.55 411.53,160.04 411.80,159.53 412.08,159.03 412.35,158.52 412.63,158.02 412.90,157.52 413.18,157.03 413.45,156.53 413.73,156.05 414.00,155.56 414.28,155.08 414.55,154.60 414.83,154.12 415.10,153.65 415.38,153.19 415.65,152.72 415.93,152.27 416.20,151.81 416.48,151.37 416.75,150.92 417.03,150.48 417.30,150.05 417.58,149.63 417.85,149.20 418.13,148.79 418.40,148.38 418.68,147.98 418.95,147.59 419.23,147.20 419.51,146.82 419.78,146.44 420.06,146.07 420.33,145.71 420.61,145.36 420.88,145.01 421.16,144.68 421.43,144.35 421.71,144.03 421.98,143.72 422.26,143.41 422.53,143.12 422.81,142.84 423.08,142.55 423.36,142.29 423.63,142.03 423.91,141.77 424.18,141.54 424.46,141.31 424.73,141.08 425.01,140.88 425.28,140.67 425.56,140.48 425.83,140.30 426.11,140.13 426.38,139.97 426.66,139.82 426.93,139.67 427.21,139.55 427.48,139.42 427.76,139.31 428.03,139.21 428.31,139.12 428.58,139.04 428.86,138.97 429.13,138.91 429.41,138.86 429.68,138.82 429.96,138.79 430.24,138.77 430.51,138.76 430.79,138.76 431.06,138.77 431.34,138.79 431.61,138.81 431.89,138.85 432.16,138.89 432.44,138.95 432.71,139.01 432.99,139.08 433.26,139.16 433.54,139.25 433.81,139.34 434.09,139.44 434.36,139.55 434.64,139.67 434.91,139.79 435.19,139.92 435.46,140.06 435.74,140.20 436.01,140.34 436.29,140.50 436.56,140.66 436.84,140.82 437.11,140.99 437.39,141.16 437.66,141.34 437.94,141.52 438.21,141.71 438.49,141.90 438.76,142.09 439.04,142.28 439.31,142.48 439.59,142.68 439.86,142.88 440.14,143.08 440.41,143.29 440.69,143.50 440.97,143.70 441.24,143.91 441.52,144.12 441.79,144.33 442.07,144.54 442.34,144.75 442.62,144.96 442.89,145.18 443.17,145.39 443.44,145.59 443.72,145.80 443.99,146.01 444.27,146.22 444.54,146.42 444.82,146.63 445.09,146.83 445.37,147.03 445.64,147.23 445.92,147.43 446.19,147.62 446.47,147.82 446.74,148.01 447.02,148.20 447.29,148.39 447.57,148.57 447.84,148.75 448.12,148.93 448.39,149.11 448.67,149.29 448.94,149.46 449.22,149.63 449.49,149.80 449.77,149.97 450.04,150.13 450.32,150.29 450.59,150.45 450.87,150.60 451.14,150.76 451.42,150.91 451.69,151.06 451.97,151.20 452.25,151.34 452.52,151.49 452.80,151.63 453.07,151.76 453.35,151.89 453.62,152.03 453.90,152.15 454.17,152.28 454.45,152.41 454.72,152.53 455.00,152.65 455.27,152.77 455.55,152.88 455.82,153.00 456.10,153.11 456.37,153.22 456.65,153.33 456.92,153.43 457.20,153.53 457.47,153.64 457.75,153.74 458.02,153.84 458.30,153.93 458.57,154.03 458.85,154.12 459.12,154.21 459.40,154.31 459.67,154.40 459.95,154.48 460.22,154.57 460.50,154.65 460.77,154.74 461.05,154.82 461.32,154.90 461.60,154.98 461.87,155.06 462.15,155.13 462.42,155.21 462.70,155.29 462.98,155.36 463.25,155.43 463.53,155.50 463.80,155.57 464.08,155.64 464.35,155.71 464.63,155.78 464.90,155.84 465.18,155.91 465.45,155.97 465.73,156.04 466.00,156.10 466.28,156.16 466.55,156.22 466.83,156.28 467.10,156.34 467.38,156.40 467.65,156.46 467.93,156.52 468.20,156.57 468.48,156.63 468.75,156.68 469.03,156.74 469.30,156.79 469.58,156.85" fill="none" stroke="#d95319" stroke-width="1.75" stroke-linejoin="round"/>
<polyline clip-path="url(#cBR)" points="363.65,181.31 363.93,181.44 364.21,181.56 364.48,181.69 364.76,181.82 365.03,181.95 365.31,182.09 365.58,182.23 365.86,182.37 366.13,182.51 366.41,182.66 366.68,182.81 366.96,182.96 367.23,183.12 367.51,183.28 367.78,183.44 368.06,183.60 368.33,183.77 368.61,183.94 368.88,184.12 369.16,184.30 369.43,184.48 369.71,184.66 369.98,184.85 370.26,185.04 370.53,185.24 370.81,185.44 371.08,185.64 371.36,185.84 371.63,186.05 371.91,186.26 372.18,186.48 372.46,186.70 372.73,186.92 373.01,187.15 373.28,187.38 373.56,187.61 373.83,187.85 374.11,188.09 374.38,188.33 374.66,188.57 374.93,188.82 375.21,189.07 375.49,189.32 375.76,189.58 376.04,189.84 376.31,190.10 376.59,190.36 376.86,190.62 377.14,190.89 377.41,191.16 377.69,191.42 377.96,191.69 378.24,191.96 378.51,192.23 378.79,192.50 379.06,192.77 379.34,193.04 379.61,193.30 379.89,193.57" fill="none" stroke="#edb120" stroke-width="1.75" stroke-linejoin="round"/>
<polyline clip-path="url(#cBR)" points="381.81,195.37 382.09,195.61 382.36,195.85 382.64,196.08 382.91,196.31 383.19,196.53 383.46,196.75 383.74,196.96 384.01,197.16 384.29,197.35 384.56,197.54 384.84,197.71 385.11,197.88 385.39,198.04 385.66,198.19 385.94,198.33 386.22,198.46 386.49,198.57 386.77,198.68 387.04,198.77 387.32,198.85 387.59,198.92 387.87,198.98 388.14,199.03 388.42,199.06 388.69,199.07 388.97,199.08 389.24,199.07 389.52,199.04 389.79,199.00 390.07,198.95 390.34,198.87 390.62,198.79 390.89,198.69 391.17,198.57 391.44,198.44 391.72,198.29 391.99,198.13 392.27,197.95 392.54,197.76 392.82,197.55 393.09,197.32 393.37,197.08 393.64,196.82 393.92,196.55 394.19,196.26 394.47,195.95 394.74,195.63 395.02,195.30 395.29,194.94 395.57,194.58 395.84,194.20 396.12,193.80 396.39,193.39 396.67,192.96 396.94,192.53 397.22,192.07 397.50,191.60 397.77,191.13 398.05,190.63 398.32,190.12 398.60,189.60 398.87,189.07 399.15,188.53 399.42,187.97 399.70,187.41 399.97,186.83 400.25,186.24 400.52,185.64 400.80,185.03 401.07,184.41 401.35,183.78 401.62,183.14 401.90,182.49 402.17,181.84 402.45,181.17 402.72,180.50 403.00,179.82 403.27,179.14 403.55,178.44 403.82,177.75 404.10,177.04 404.37,176.33 404.65,175.61 404.92,174.89 405.20,174.17 405.47,173.44 405.75,172.71 406.02,171.98 406.30,171.24 406.57,170.50 406.85,169.76 407.12,169.01 407.40,168.27 407.67,167.52 407.95,166.77 408.23,166.03 408.50,165.28 408.78,164.54 409.05,163.79 409.33,163.05 409.60,162.31 409.88,161.57 410.15,160.84 410.43,160.11 410.70,159.38 410.98,158.66 411.25,157.94 411.53,157.22 411.80,156.51 412.08,155.80 412.35,155.11 412.63,154.41 412.90,153.73 413.18,153.05 413.45,152.38 413.73,151.71 414.00,151.06 414.28,150.41 414.55,149.77 414.83,149.14 415.10,148.52 415.38,147.91 415.65,147.31 415.93,146.72 416.20,146.14 416.48,145.58 416.75,145.02 417.03,144.48 417.30,143.95 417.58,143.43 417.85,142.92 418.13,142.42 418.40,141.95 418.68,141.48 418.95,141.02 419.23,140.59 419.51,140.16 419.78,139.75 420.06,139.35 420.33,138.97 420.61,138.61 420.88,138.25 421.16,137.92 421.43,137.60 421.71,137.29 421.98,137.00 422.26,136.73 422.53,136.47 422.81,136.23 423.08,136.00 423.36,135.79 423.63,135.60 423.91,135.42 424.18,135.26 424.46,135.11 424.73,134.98 425.01,134.86 425.28,134.76 425.56,134.68 425.83,134.60 426.11,134.55 426.38,134.51 426.66,134.48 426.93,134.47 427.21,134.48 427.48,134.49 427.76,134.52 428.03,134.57 428.31,134.63 428.58,134.70 428.86,134.78 429.13,134.87 429.41,134.98 429.68,135.09 429.96,135.22 430.24,135.36 430.51,135.51 430.79,135.67 431.06,135.84 431.34,136.01 431.61,136.20 431.89,136.39 432.16,136.59 432.44,136.80 432.71,137.02 432.99,137.24 433.26,137.47 433.54,137.70 433.81,137.94 434.09,138.18" fill="none" stroke="#edb120" stroke-width="1.75" stroke-linejoin="round"/>
<polyline clip-path="url(#cBR)" points="436.01,139.98 436.29,140.25 436.56,140.51 436.84,140.78 437.11,141.05 437.39,141.32 437.66,141.59 437.94,141.86 438.21,142.13 438.49,142.39 438.76,142.66 439.04,142.93 439.31,143.19 439.59,143.45 439.86,143.71 440.14,143.97 440.41,144.23 440.69,144.48 440.97,144.73 441.24,144.98 441.52,145.22 441.79,145.46 442.07,145.70 442.34,145.94 442.62,146.17 442.89,146.40 443.17,146.63 443.44,146.85 443.72,147.07 443.99,147.29 444.27,147.50 444.54,147.71 444.82,147.91 445.09,148.11 445.37,148.31 445.64,148.51 445.92,148.70 446.19,148.89 446.47,149.07 446.74,149.25 447.02,149.43 447.29,149.61 447.57,149.78 447.84,149.95 448.12,150.11 448.39,150.27 448.67,150.43 448.94,150.59 449.22,150.74 449.49,150.89 449.77,151.04 450.04,151.18 450.32,151.32 450.59,151.46 450.87,151.60 451.14,151.73 451.42,151.86 451.69,151.99 451.97,152.11 452.25,152.24" fill="none" stroke="#edb120" stroke-width="1.75" stroke-linejoin="round"/>
<polyline clip-path="url(#cBR)" points="385.39,198.75 385.66,198.95 385.94,199.14 386.22,199.32 386.49,199.49 386.77,199.65 387.04,199.80 387.32,199.93 387.59,200.06 387.87,200.17 388.14,200.26 388.42,200.34 388.69,200.41 388.97,200.46 389.24,200.50 389.52,200.52 389.79,200.53 390.07,200.52 390.34,200.49 390.62,200.45 390.89,200.39 391.17,200.32 391.44,200.22 391.72,200.11 391.99,199.98 392.27,199.83 392.54,199.67 392.82,199.49 393.09,199.29 393.37,199.07 393.64,198.83 393.92,198.57 394.19,198.30 394.47,198.01 394.74,197.70 395.02,197.37 395.29,197.02 395.57,196.66 395.84,196.28 396.12,195.88 396.39,195.47 396.67,195.03 396.94,194.58 397.22,194.12 397.50,193.64 397.77,193.14 398.05,192.62 398.32,192.09 398.60,191.55 398.87,190.99 399.15,190.41 399.42,189.82 399.70,189.22 399.97,188.61 400.25,187.98 400.52,187.34 400.80,186.68 401.07,186.02 401.35,185.34 401.62,184.65 401.90,183.95 402.17,183.24 402.45,182.52 402.72,181.79 403.00,181.05 403.27,180.31 403.55,179.55 403.82,178.79 404.10,178.02 404.37,177.25 404.65,176.47 404.92,175.68 405.20,174.89 405.47,174.09 405.75,173.29" fill="none" stroke="#7e2f8e" stroke-width="1.75" stroke-linejoin="round"/>
<polyline clip-path="url(#cBR)" points="410.15,160.26 410.43,159.46 410.70,158.66 410.98,157.87 411.25,157.08 411.53,156.30 411.80,155.53 412.08,154.76 412.35,154.00 412.63,153.24 412.90,152.50 413.18,151.76 413.45,151.03 413.73,150.31 414.00,149.60 414.28,148.90 414.55,148.21 414.83,147.53 415.10,146.87 415.38,146.21 415.65,145.57 415.93,144.94 416.20,144.33 416.48,143.73 416.75,143.14 417.03,142.56 417.30,142.00 417.58,141.46 417.85,140.93 418.13,140.41 418.40,139.91 418.68,139.43 418.95,138.97 419.23,138.52 419.51,138.08 419.78,137.67 420.06,137.27 420.33,136.89 420.61,136.53 420.88,136.18 421.16,135.85 421.43,135.54 421.71,135.25 421.98,134.98 422.26,134.72 422.53,134.48 422.81,134.26 423.08,134.06 423.36,133.88 423.63,133.72 423.91,133.57 424.18,133.44 424.46,133.33 424.73,133.23 425.01,133.16 425.28,133.10 425.56,133.06 425.83,133.03 426.11,133.02 426.38,133.03 426.66,133.05 426.93,133.09 427.21,133.14 427.48,133.21 427.76,133.29 428.03,133.38 428.31,133.49 428.58,133.62 428.86,133.75 429.13,133.90 429.41,134.06 429.68,134.23 429.96,134.41 430.24,134.60 430.51,134.80" fill="none" stroke="#7e2f8e" stroke-width="1.75" stroke-linejoin="round"/>
<polyline clip-path="url(#kBR)" points="293.50,171.80 293.77,171.81 294.05,171.82 294.32,171.83 294.60,171.85 294.87,171.86 295.15,171.87 295.42,171.88 295.70,171.90 295.97,171.91 296.25,171.92 296.52,171.94 296.80,171.95 297.07,171.96 297.35,171.98 297.62,171.99 297.90,172.00 298.18,172.02 298.45,172.03 298.73,172.04 299.00,172.06 299.28,172.07 299.55,172.08 299.83,172.10 300.10,172.11 300.38,172.13 300.65,172.14 300.93,172.15 301.20,172.17 301.48,172.18 301.75,172.20 302.03,172.21 302.30,172.23 302.58,172.24 302.85,172.26 303.13,172.27 303.40,172.29 303.68,172.30 303.95,172.32 304.23,172.33 304.50,172.35 304.78,172.36 305.05,172.38 305.33,172.39 305.60,172.41 305.88,172.42 306.15,172.44 306.43,172.46 306.70,172.47 306.98,172.49 307.25,172.50 307.53,172.52 307.80,172.54 308.08,172.55 308.35,172.57 308.63,172.59 308.90,172.60 309.18,172.62 309.46,172.64 309.73,172.65 310.01,172.67 310.28,172.69 310.56,172.70 310.83,172.72 311.11,172.74 311.38,172.76 311.66,172.77 311.93,172.79 312.21,172.81 312.48,172.83 312.76,172.85 313.03,172.86 313.31,172.88 313.58,172.90 313.86,172.92 314.13,172.94 314.41,172.96 314.68,172.98 314.96,173.00 315.23,173.02 315.51,173.03 315.78,173.05 316.06,173.07 316.33,173.09 316.61,173.11 316.88,173.13 317.16,173.15 317.43,173.17 317.71,173.19 317.98,173.21 318.26,173.23 318.53,173.26 318.81,173.28 319.08,173.30 319.36,173.32 319.63,173.34 319.91,173.36 320.19,173.38 320.46,173.40 320.74,173.43 321.01,173.45 321.29,173.47 321.56,173.49 321.84,173.52 322.11,173.54 322.39,173.56 322.66,173.58 322.94,173.61 323.21,173.63 323.49,173.65 323.76,173.68 324.04,173.70 324.31,173.73 324.59,173.75 324.86,173.77 325.14,173.80 325.41,173.82 325.69,173.85 325.96,173.87 326.24,173.90 326.51,173.92 326.79,173.95 327.06,173.97 327.34,174.00 327.61,174.03 327.89,174.05 328.16,174.08 328.44,174.11 328.71,174.13 328.99,174.16 329.26,174.19 329.54,174.22 329.81,174.24 330.09,174.27 330.36,174.30 330.64,174.33 330.91,174.36 331.19,174.38 331.47,174.41 331.74,174.44 332.02,174.47 332.29,174.50 332.57,174.53 332.84,174.56 333.12,174.59 333.39,174.62 333.67,174.66 333.94,174.69 334.22,174.72 334.49,174.75 334.77,174.78 335.04,174.81 335.32,174.85 335.59,174.88 335.87,174.91 336.14,174.95 336.42,174.98 336.69,175.01 336.97,175.05 337.24,175.08 337.52,175.12 337.79,175.15 338.07,175.19 338.34,175.22 338.62,175.26 338.89,175.30 339.17,175.33 339.44,175.37 339.72,175.41 339.99,175.45 340.27,175.49 340.54,175.52 340.82,175.56 341.09,175.60 341.37,175.64 341.64,175.68 341.92,175.72 342.20,175.76 342.47,175.80 342.75,175.85 343.02,175.89 343.30,175.93 343.57,175.97 343.85,176.02 344.12,176.06 344.40,176.10 344.67,176.15 344.95,176.19 345.22,176.24 345.50,176.29 345.77,176.33 346.05,176.38 346.32,176.43 346.60,176.47 346.87,176.52 347.15,176.57 347.42,176.62 347.70,176.67 347.97,176.72 348.25,176.77 348.52,176.82 348.80,176.88 349.07,176.93 349.35,176.98 349.62,177.04 349.90,177.09 350.17,177.15 350.45,177.20 350.72,177.26 351.00,177.32 351.27,177.38 351.55,177.43 351.82,177.49 352.10,177.55 352.37,177.62 352.65,177.68 352.92,177.74 353.20,177.80 353.48,177.87 353.75,177.93 354.03,178.00 354.30,178.06 354.58,178.13 354.85,178.20 355.13,178.27 355.40,178.34 355.68,178.41 355.95,178.48 356.23,178.56 356.50,178.63 356.78,178.71 357.05,178.78 357.33,178.86 357.60,178.94 357.88,179.02 358.15,179.10 358.43,179.18 358.70,179.27 358.98,179.35 359.25,179.44 359.53,179.53 359.80,179.62 360.08,179.71 360.35,179.80 360.63,179.89 360.90,179.99 361.18,180.09 361.45,180.18 361.73,180.28 362.00,180.39 362.28,180.49 362.55,180.60 362.83,180.70 363.10,180.81 363.38,180.93 363.65,181.04 363.93,181.16 364.21,181.27 364.48,181.40 364.76,181.52 365.03,181.64 365.31,181.77 365.58,181.90 365.86,182.03 366.13,182.17 366.41,182.31 366.68,182.45 366.96,182.59 367.23,182.74 367.51,182.89 367.78,183.04 368.06,183.20 368.33,183.36 368.61,183.52 368.88,183.69 369.16,183.85 369.43,184.03 369.71,184.20 369.98,184.38 370.26,184.57 370.53,184.76 370.81,184.95 371.08,185.14 371.36,185.34 371.63,185.54 371.91,185.75 372.18,185.96 372.46,186.18 372.73,186.40 373.01,186.62 373.28,186.85 373.56,187.08 373.83,187.31 374.11,187.55 374.38,187.80 374.66,188.05 374.93,188.30 375.21,188.55 375.49,188.81 375.76,189.08 376.04,189.35 376.31,189.62 376.59,189.89 376.86,190.17 377.14,190.45 377.41,190.74 377.69,191.02 377.96,191.31 378.24,191.60 378.51,191.90 378.79,192.20 379.06,192.49 379.34,192.79 379.61,193.09 379.89,193.40 380.16,193.70 380.44,194.00 380.71,194.30 380.99,194.60 381.26,194.90 381.54,195.20 381.81,195.50 382.09,195.79 382.36,196.09 382.64,196.38 382.91,196.66 383.19,196.94 383.46,197.22 383.74,197.49 384.01,197.75 384.29,198.01 384.56,198.27 384.84,198.51 385.11,198.75 385.39,198.98 385.66,199.19 385.94,199.40 386.22,199.60 386.49,199.79 386.77,199.97 387.04,200.14 387.32,200.29 387.59,200.43 387.87,200.56 388.14,200.68 388.42,200.78 388.69,200.86 388.97,200.94 389.24,200.99 389.52,201.03 389.79,201.06 390.07,201.06 390.34,201.05 390.62,201.03 390.89,200.98 391.17,200.92 391.44,200.84 391.72,200.74 391.99,200.63 392.27,200.49 392.54,200.34 392.82,200.17 393.09,199.98 393.37,199.77 393.64,199.54 393.92,199.29 394.19,199.02 394.47,198.73 394.74,198.43 395.02,198.10 395.29,197.76 395.57,197.40 395.84,197.02 396.12,196.62 396.39,196.20 396.67,195.77 396.94,195.32 397.22,194.85 397.50,194.36 397.77,193.85 398.05,193.33 398.32,192.79 398.60,192.24 398.87,191.67 399.15,191.09 399.42,190.49 399.70,189.87 399.97,189.24 400.25,188.60 400.52,187.94 400.80,187.27 401.07,186.59 401.35,185.90 401.62,185.19 401.90,184.47 402.17,183.74 402.45,183.00 402.72,182.26 403.00,181.50 403.27,180.73 403.55,179.95 403.82,179.17 404.10,178.38 404.37,177.58 404.65,176.77 404.92,175.96 405.20,175.14 405.47,174.32 405.75,173.49 406.02,172.66 406.30,171.83 406.57,170.99 406.85,170.15 407.12,169.31 407.40,168.47 407.67,167.62 407.95,166.78 408.23,165.93 408.50,165.08 408.78,164.24 409.05,163.40 409.33,162.56 409.60,161.72 409.88,160.89 410.15,160.06 410.43,159.23 410.70,158.41 410.98,157.59 411.25,156.78 411.53,155.97 411.80,155.17 412.08,154.38 412.35,153.60 412.63,152.82 412.90,152.05 413.18,151.29 413.45,150.55 413.73,149.81 414.00,149.08 414.28,148.36 414.55,147.65 414.83,146.96 415.10,146.28 415.38,145.61 415.65,144.95 415.93,144.31 416.20,143.68 416.48,143.06 416.75,142.46 417.03,141.88 417.30,141.31 417.58,140.76 417.85,140.22 418.13,139.70 418.40,139.19 418.68,138.70 418.95,138.23 419.23,137.78 419.51,137.35 419.78,136.93 420.06,136.53 420.33,136.15 420.61,135.79 420.88,135.45 421.16,135.12 421.43,134.82 421.71,134.53 421.98,134.26 422.26,134.01 422.53,133.78 422.81,133.57 423.08,133.38 423.36,133.21 423.63,133.06 423.91,132.92 424.18,132.81 424.46,132.71 424.73,132.63 425.01,132.57 425.28,132.52 425.56,132.50 425.83,132.49 426.11,132.49 426.38,132.52 426.66,132.56 426.93,132.61 427.21,132.69 427.48,132.77 427.76,132.87 428.03,132.99 428.31,133.12 428.58,133.26 428.86,133.41 429.13,133.58 429.41,133.76 429.68,133.95 429.96,134.15 430.24,134.36 430.51,134.57 430.79,134.80 431.06,135.04 431.34,135.28 431.61,135.54 431.89,135.80 432.16,136.06 432.44,136.33 432.71,136.61 432.99,136.89 433.26,137.17 433.54,137.46 433.81,137.76 434.09,138.05 434.36,138.35 434.64,138.65 434.91,138.95 435.19,139.25 435.46,139.55 435.74,139.85 436.01,140.15 436.29,140.46 436.56,140.76 436.84,141.06 437.11,141.35 437.39,141.65 437.66,141.95 437.94,142.24 438.21,142.53 438.49,142.81 438.76,143.10 439.04,143.38 439.31,143.66 439.59,143.93 439.86,144.20 440.14,144.47 440.41,144.74 440.69,145.00 440.97,145.25 441.24,145.50 441.52,145.75 441.79,146.00 442.07,146.24 442.34,146.47 442.62,146.70 442.89,146.93 443.17,147.15 443.44,147.37 443.72,147.59 443.99,147.80 444.27,148.01 444.54,148.21 444.82,148.41 445.09,148.60 445.37,148.79 445.64,148.98 445.92,149.17 446.19,149.35 446.47,149.52 446.74,149.70 447.02,149.86 447.29,150.03 447.57,150.19 447.84,150.35 448.12,150.51 448.39,150.66 448.67,150.81 448.94,150.96 449.22,151.10 449.49,151.24 449.77,151.38 450.04,151.52 450.32,151.65 450.59,151.78 450.87,151.91 451.14,152.03 451.42,152.15 451.69,152.28 451.97,152.39 452.25,152.51 452.52,152.62 452.80,152.74 453.07,152.85 453.35,152.95 453.62,153.06 453.90,153.16 454.17,153.27 454.45,153.37 454.72,153.46 455.00,153.56 455.27,153.66 455.55,153.75 455.82,153.84 456.10,153.93 456.37,154.02 456.65,154.11 456.92,154.20 457.20,154.28 457.47,154.37 457.75,154.45 458.02,154.53 458.30,154.61 458.57,154.69 458.85,154.77 459.12,154.84 459.40,154.92 459.67,154.99 459.95,155.07 460.22,155.14 460.50,155.21 460.77,155.28 461.05,155.35 461.32,155.42 461.60,155.49 461.87,155.55 462.15,155.62 462.42,155.68 462.70,155.75 462.98,155.81 463.25,155.87 463.53,155.93 463.80,156.00 464.08,156.06 464.35,156.12 464.63,156.17 464.90,156.23 465.18,156.29 465.45,156.35 465.73,156.40 466.00,156.46 466.28,156.51 466.55,156.57 466.83,156.62 467.10,156.67 467.38,156.73 467.65,156.78 467.93,156.83 468.20,156.88 468.48,156.93 468.75,156.98 469.03,157.03 469.30,157.08 469.58,157.12 469.85,157.17 470.13,157.22 470.40,157.26 470.68,157.31 470.95,157.36 471.23,157.40 471.50,157.45 471.78,157.49 472.05,157.53 472.33,157.58 472.60,157.62 472.88,157.66 473.15,157.70 473.43,157.75 473.70,157.79 473.98,157.83 474.26,157.87 474.53,157.91 474.81,157.95 475.08,157.99 475.36,158.03 475.63,158.06 475.91,158.10 476.18,158.14 476.46,158.18 476.73,158.22 477.01,158.25 477.28,158.29 477.56,158.33 477.83,158.36 478.11,158.40 478.38,158.43 478.66,158.47 478.93,158.50 479.21,158.54 479.48,158.57 479.76,158.60 480.03,158.64 480.31,158.67 480.58,158.70 480.86,158.74 481.13,158.77 481.41,158.80 481.68,158.83 481.96,158.86 482.23,158.89 482.51,158.93 482.78,158.96 483.06,158.99 483.33,159.02 483.61,159.05 483.88,159.08 484.16,159.11 484.43,159.14 484.71,159.17 484.99,159.19 485.26,159.22 485.54,159.25 485.81,159.28 486.09,159.31 486.36,159.33 486.64,159.36 486.91,159.39 487.19,159.42 487.46,159.44 487.74,159.47 488.01,159.50 488.29,159.52 488.56,159.55 488.84,159.58 489.11,159.60 489.39,159.63 489.66,159.65 489.94,159.68 490.21,159.70 490.49,159.73 490.76,159.75 491.04,159.78 491.31,159.80 491.59,159.82 491.86,159.85 492.14,159.87 492.41,159.90 492.69,159.92 492.96,159.94 493.24,159.97 493.51,159.99 493.79,160.01 494.06,160.03 494.34,160.06 494.61,160.08 494.89,160.10 495.16,160.12 495.44,160.15 495.71,160.17 495.99,160.19 496.27,160.21 496.54,160.23 496.82,160.25 497.09,160.27 497.37,160.29 497.64,160.32 497.92,160.34 498.19,160.36 498.47,160.38 498.74,160.40 499.02,160.42 499.29,160.44 499.57,160.46 499.84,160.48 500.12,160.50 500.39,160.52 500.67,160.53 500.94,160.55 501.22,160.57 501.49,160.59 501.77,160.61 502.04,160.63 502.32,160.65 502.59,160.67 502.87,160.69 503.14,160.70 503.42,160.72 503.69,160.74 503.97,160.76 504.24,160.78 504.52,160.79 504.79,160.81 505.07,160.83 505.34,160.85 505.62,160.86 505.89,160.88 506.17,160.90 506.44,160.91 506.72,160.93 507.00,160.95 507.27,160.96 507.55,160.98 507.82,161.00 508.10,161.01 508.37,161.03 508.65,161.05 508.92,161.06 509.20,161.08 509.47,161.09 509.75,161.11 510.02,161.13 510.30,161.14 510.57,161.16 510.85,161.17 511.12,161.19 511.40,161.20 511.67,161.22 511.95,161.23 512.22,161.25 512.50,161.26 512.77,161.28 513.05,161.29 513.32,161.31 513.60,161.32 513.87,161.34 514.15,161.35 514.42,161.37 514.70,161.38 514.97,161.40 515.25,161.41 515.52,161.42 515.80,161.44 516.07,161.45 516.35,161.47 516.62,161.48 516.90,161.49 517.17,161.51 517.45,161.52 517.72,161.53 518.00,161.55 518.28,161.56 518.55,161.57 518.83,161.59 519.10,161.60 519.38,161.61 519.65,161.63 519.93,161.64 520.20,161.65 520.48,161.67 520.75,161.68 521.03,161.69 521.30,161.70 521.58,161.72 521.85,161.73 522.13,161.74 522.40,161.75" fill="none" stroke="#000" stroke-width="2.6" stroke-linejoin="round"/>
<rect x="34.00" y="22.90" width="220.90" height="82.40" fill="none" stroke="#000" stroke-width="1.7"/>
<path d="M89.22 105.30v-3.20M89.22 22.90v3.20" stroke="#000" stroke-width="1.5"/>
<path d="M144.45 105.30v-3.20M144.45 22.90v3.20" stroke="#000" stroke-width="1.5"/>
<path d="M199.68 105.30v-3.20M199.68 22.90v3.20" stroke="#000" stroke-width="1.5"/>
<path d="M34.00 105.30h3.20M254.90 105.30h-3.20" stroke="#000" stroke-width="1.5"/>
<path d="M34.00 67.85h3.20M254.90 67.85h-3.20" stroke="#000" stroke-width="1.5"/>
<path d="M34.00 30.39h3.20M254.90 30.39h-3.20" stroke="#000" stroke-width="1.5"/>
<line x1="25.21" y1="113.48" x2="31.89" y2="113.48" stroke="#222" stroke-width="0.68"/>
<text x="35.52" y="116.20" font-size="10.90" text-anchor="middle">1</text>
<text x="40.97" y="116.20" font-size="10.90" text-anchor="middle">0</text>
<line x1="83.16" y1="113.48" x2="89.84" y2="113.48" stroke="#222" stroke-width="0.68"/>
<text x="93.47" y="116.20" font-size="10.90" text-anchor="middle">5</text>
<text x="144.45" y="116.20" font-size="10.90" text-anchor="middle">0</text>
<text x="199.68" y="116.20" font-size="10.90" text-anchor="middle">5</text>
<text x="252.18" y="116.20" font-size="10.90" text-anchor="middle">1</text>
<text x="257.62" y="116.20" font-size="10.90" text-anchor="middle">0</text>
<text x="28.78" y="107.90" font-size="10.90" text-anchor="middle">0</text>
<text x="28.78" y="32.99" font-size="10.90" text-anchor="middle">1</text>
<rect x="297.90" y="22.90" width="220.10" height="82.40" fill="none" stroke="#000" stroke-width="1.7"/>
<path d="M352.92 105.30v-3.20M352.92 22.90v3.20" stroke="#000" stroke-width="1.5"/>
<path d="M407.95 105.30v-3.20M407.95 22.90v3.20" stroke="#000" stroke-width="1.5"/>
<path d="M462.98 105.30v-3.20M462.98 22.90v3.20" stroke="#000" stroke-width="1.5"/>
<path d="M297.90 105.30h3.20M518.00 105.30h-3.20" stroke="#000" stroke-width="1.5"/>
<path d="M297.90 71.25h3.20M518.00 71.25h-3.20" stroke="#000" stroke-width="1.5"/>
<path d="M297.90 37.20h3.20M518.00 37.20h-3.20" stroke="#000" stroke-width="1.5"/>
<line x1="289.11" y1="113.48" x2="295.79" y2="113.48" stroke="#222" stroke-width="0.68"/>
<text x="299.42" y="116.20" font-size="10.90" text-anchor="middle">1</text>
<text x="304.87" y="116.20" font-size="10.90" text-anchor="middle">0</text>
<line x1="346.86" y1="113.48" x2="353.54" y2="113.48" stroke="#222" stroke-width="0.68"/>
<text x="357.17" y="116.20" font-size="10.90" text-anchor="middle">5</text>
<text x="407.95" y="116.20" font-size="10.90" text-anchor="middle">0</text>
<text x="462.98" y="116.20" font-size="10.90" text-anchor="middle">5</text>
<text x="515.27" y="116.20" font-size="10.90" text-anchor="middle">1</text>
<text x="520.73" y="116.20" font-size="10.90" text-anchor="middle">0</text>
<text x="292.68" y="107.90" font-size="10.90" text-anchor="middle">0</text>
<text x="284.19" y="39.80" font-size="10.90" text-anchor="middle">0</text>
<text x="288.43" y="39.80" font-size="10.90" text-anchor="middle">.</text>
<text x="292.67" y="39.80" font-size="10.90" text-anchor="middle">3</text>
<rect x="34.00" y="125.50" width="220.90" height="82.55" fill="none" stroke="#000" stroke-width="1.7"/>
<path d="M89.22 208.05v-3.20M89.22 125.50v3.20" stroke="#000" stroke-width="1.5"/>
<path d="M144.45 208.05v-3.20M144.45 125.50v3.20" stroke="#000" stroke-width="1.5"/>
<path d="M199.68 208.05v-3.20M199.68 125.50v3.20" stroke="#000" stroke-width="1.5"/>
<path d="M34.00 202.67h3.20M254.90 202.67h-3.20" stroke="#000" stroke-width="1.5"/>
<path d="M34.00 166.78h3.20M254.90 166.78h-3.20" stroke="#000" stroke-width="1.5"/>
<path d="M34.00 130.88h3.20M254.90 130.88h-3.20" stroke="#000" stroke-width="1.5"/>
<line x1="25.21" y1="216.58" x2="31.89" y2="216.58" stroke="#222" stroke-width="0.68"/>
<text x="35.52" y="219.30" font-size="10.90" text-anchor="middle">1</text>
<text x="40.97" y="219.30" font-size="10.90" text-anchor="middle">0</text>
<line x1="83.16" y1="216.58" x2="89.84" y2="216.58" stroke="#222" stroke-width="0.68"/>
<text x="93.47" y="219.30" font-size="10.90" text-anchor="middle">5</text>
<text x="144.45" y="219.30" font-size="10.90" text-anchor="middle">0</text>
<text x="199.68" y="219.30" font-size="10.90" text-anchor="middle">5</text>
<text x="252.18" y="219.30" font-size="10.90" text-anchor="middle">1</text>
<text x="257.62" y="219.30" font-size="10.90" text-anchor="middle">0</text>
<line x1="18.47" y1="202.54" x2="25.15" y2="202.54" stroke="#222" stroke-width="0.68"/>
<text x="28.78" y="205.27" font-size="10.90" text-anchor="middle">1</text>
<text x="28.78" y="169.78" font-size="10.90" text-anchor="middle">0</text>
<text x="28.78" y="133.48" font-size="10.90" text-anchor="middle">1</text>
<rect x="297.90" y="125.50" width="220.10" height="82.55" fill="none" stroke="#000" stroke-width="1.7"/>
<path d="M352.92 208.05v-3.20M352.92 125.50v3.20" stroke="#000" stroke-width="1.5"/>
<path d="M407.95 208.05v-3.20M407.95 125.50v3.20" stroke="#000" stroke-width="1.5"/>
<path d="M462.98 208.05v-3.20M462.98 125.50v3.20" stroke="#000" stroke-width="1.5"/>
<path d="M297.90 199.17h3.20M518.00 199.17h-3.20" stroke="#000" stroke-width="1.5"/>
<path d="M297.90 166.78h3.20M518.00 166.78h-3.20" stroke="#000" stroke-width="1.5"/>
<path d="M297.90 134.38h3.20M518.00 134.38h-3.20" stroke="#000" stroke-width="1.5"/>
<line x1="289.11" y1="216.58" x2="295.79" y2="216.58" stroke="#222" stroke-width="0.68"/>
<text x="299.42" y="219.30" font-size="10.90" text-anchor="middle">1</text>
<text x="304.87" y="219.30" font-size="10.90" text-anchor="middle">0</text>
<line x1="346.86" y1="216.58" x2="353.54" y2="216.58" stroke="#222" stroke-width="0.68"/>
<text x="357.17" y="219.30" font-size="10.90" text-anchor="middle">5</text>
<text x="407.95" y="219.30" font-size="10.90" text-anchor="middle">0</text>
<text x="462.98" y="219.30" font-size="10.90" text-anchor="middle">5</text>
<text x="515.27" y="219.30" font-size="10.90" text-anchor="middle">1</text>
<text x="520.73" y="219.30" font-size="10.90" text-anchor="middle">0</text>
<line x1="273.89" y1="199.05" x2="280.57" y2="199.05" stroke="#222" stroke-width="0.68"/>
<text x="284.19" y="201.77" font-size="10.90" text-anchor="middle">0</text>
<text x="288.43" y="201.77" font-size="10.90" text-anchor="middle">.</text>
<text x="292.68" y="201.77" font-size="10.90" text-anchor="middle">2</text>
<text x="292.68" y="169.78" font-size="10.90" text-anchor="middle">0</text>
<text x="284.19" y="136.98" font-size="10.90" text-anchor="middle">0</text>
<text x="288.43" y="136.98" font-size="10.90" text-anchor="middle">.</text>
<text x="292.67" y="136.98" font-size="10.90" text-anchor="middle">2</text>
<line x1="45.2" y1="34.20" x2="58.9" y2="34.20" stroke="#0072bd" stroke-width="1.7"/>
<text x="65.7" y="37.40" font-size="12" font-style="italic">t</text>
<path d="M73 35.70h7.6M73 33.40h7.6" stroke="#1a1a1a" stroke-width="0.75"/>
<text x="87.12" y="37.55" font-size="11.30" text-anchor="middle">0</text>
<line x1="45.2" y1="48.27" x2="58.9" y2="48.27" stroke="#d95319" stroke-width="1.7"/>
<text x="65.7" y="51.47" font-size="12" font-style="italic">t</text>
<path d="M73 49.77h7.6M73 47.47h7.6" stroke="#1a1a1a" stroke-width="0.75"/>
<text x="87.12" y="51.62" font-size="11.30" text-anchor="middle">0</text>
<text x="91.52" y="51.62" font-size="11.30" text-anchor="middle">.</text>
<text x="95.92" y="51.62" font-size="11.30" text-anchor="middle">2</text>
<text x="101.57" y="51.62" font-size="11.30" text-anchor="middle">5</text>
<line x1="45.2" y1="62.34" x2="58.9" y2="62.34" stroke="#edb120" stroke-width="1.7"/>
<text x="65.7" y="65.54" font-size="12" font-style="italic">t</text>
<path d="M73 63.84h7.6M73 61.54h7.6" stroke="#1a1a1a" stroke-width="0.75"/>
<text x="87.12" y="65.69" font-size="11.30" text-anchor="middle">1</text>
<line x1="45.2" y1="76.41" x2="58.9" y2="76.41" stroke="#7e2f8e" stroke-width="1.7"/>
<text x="65.7" y="79.61" font-size="12" font-style="italic">t</text>
<path d="M73 77.91h7.6M73 75.61h7.6" stroke="#1a1a1a" stroke-width="0.75"/>
<text x="87.12" y="79.76" font-size="11.30" text-anchor="middle">4</text>
<text x="13.9" y="68.7" font-size="14.8" font-style="italic">Γ</text>
<text x="273.6" y="68.5" font-size="15" font-style="italic">C</text>
<text x="8.7" y="169.4" font-size="14.8" font-style="italic">u</text>
<text x="16" y="170.8" font-size="10.2" font-style="italic">s</text>
<text x="273.3" y="171.3" font-size="14.3" font-style="italic">U</text>
<text x="144.6" y="234.6" font-size="15" font-style="italic" text-anchor="middle">x</text>
<text x="408.2" y="234.5" font-size="15" font-style="italic" text-anchor="middle">η</text>
<text x="243.2" y="14.10" font-size="14.5">(</text>
<text x="247.6" y="13.60" font-size="14" font-style="italic">b</text>
<text x="254.0" y="14.10" font-size="14.5">)</text>
<text transform="translate(263.9 13.60) scale(1.22 1)" font-size="13.6" font-style="italic" style="stroke-width:0.1px">P</text>
<text x="273.9" y="13.60" font-size="13.6" font-style="italic">e</text>
<text x="280.2" y="15.50" font-size="9.6" font-style="italic">s</text>
<path d="M289.0 10.60h9.6M289.0 7.90h9.6" stroke="#1a1a1a" stroke-width="0.8"/>
<text x="302.6" y="13.60" font-size="12.8">1</text>
<text x="308.2" y="141.5" font-size="11" textLength="89" lengthAdjust="spacing" style="stroke-width:0.12px;fill:#1c1c1c">Similarity solution</text>
<line x1="400.70" y1="134.20" x2="430.73" y2="98.27" stroke="#000" stroke-width="1.05"/>
<polygon points="433.30,95.20 431.90,100.54 430.67,98.35 428.29,97.53" fill="#000"/>
<line x1="400.50" y1="143.40" x2="407.46" y2="155.16" stroke="#000" stroke-width="1.05"/>
<polygon points="409.50,158.60 404.93,155.49 407.41,155.07 408.97,153.10" fill="#000"/>
</svg>
</body></html>
